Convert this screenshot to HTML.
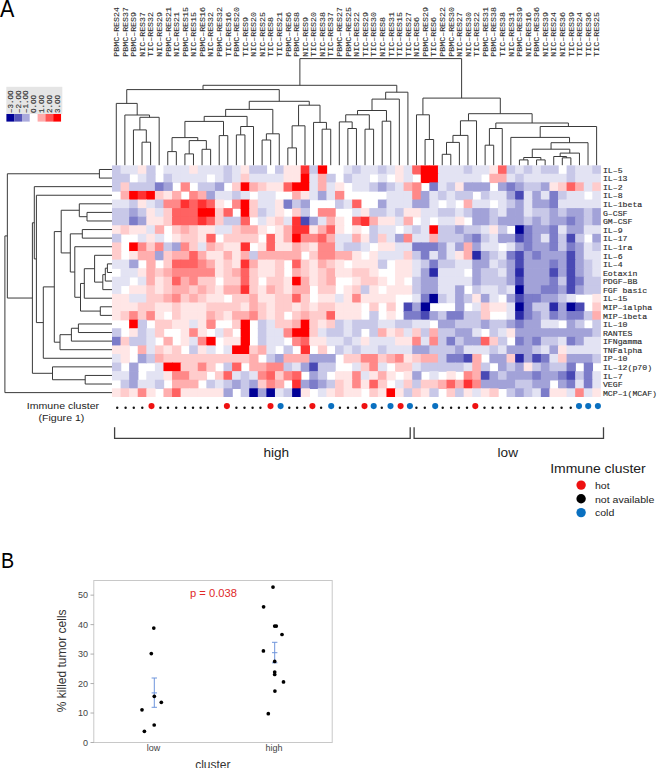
<!DOCTYPE html>
<html><head><meta charset="utf-8"><style>
html,body{margin:0;padding:0;background:#fff;}
body{width:657px;height:768px;overflow:hidden;}
svg{display:block;}
text{font-family:"Liberation Sans",sans-serif;}
.mono text{font-family:"Liberation Mono",monospace;font-size:8.2px;fill:#2a2a2a;stroke:#2a2a2a;stroke-width:0.1px;}
.leg text{font-family:"Liberation Mono",monospace;font-size:7.5px;fill:#333;stroke:#333;stroke-width:0.15px;}
.tk{font-size:9px;fill:#444;}
.ax{font-size:12px;fill:#333;}
.pv{font-size:11.2px;fill:#e02a2a;}
.cal{fill:#1c1c1c;}
</style></head><body>
<svg width="657" height="768" viewBox="0 0 657 768">
<rect width="657" height="768" fill="#fff"/>
<text transform="translate(0.1,16.5) scale(0.96,1.08)" font-size="22.4" fill="#000">A</text>
<g class="mono">
<text transform="translate(119.04,56.7) rotate(-90) scale(1.01,0.86)">PBMC–RES24</text>
<text transform="translate(127.62,56.7) rotate(-90) scale(1.01,0.86)">PBMC–RES37</text>
<text transform="translate(136.19,56.7) rotate(-90) scale(1.01,0.86)">PBMC–RES9</text>
<text transform="translate(144.77,56.7) rotate(-90) scale(1.01,0.86)">NIC–RES37</text>
<text transform="translate(153.35,56.7) rotate(-90) scale(1.01,0.86)">TIC–RES32</text>
<text transform="translate(161.92,56.7) rotate(-90) scale(1.01,0.86)">NIC–RES29</text>
<text transform="translate(170.50,56.7) rotate(-90) scale(1.01,0.86)">PBMC–RES21</text>
<text transform="translate(179.08,56.7) rotate(-90) scale(1.01,0.86)">NIC–RES21</text>
<text transform="translate(187.66,56.7) rotate(-90) scale(1.01,0.86)">PBMC–RES15</text>
<text transform="translate(196.23,56.7) rotate(-90) scale(1.01,0.86)">NIC–RES15</text>
<text transform="translate(204.81,56.7) rotate(-90) scale(1.01,0.86)">PBMC–RES16</text>
<text transform="translate(213.39,56.7) rotate(-90) scale(1.01,0.86)">NIC–RES32</text>
<text transform="translate(221.96,56.7) rotate(-90) scale(1.01,0.86)">PBMC–RES32</text>
<text transform="translate(230.54,56.7) rotate(-90) scale(1.01,0.86)">TIC–RES16</text>
<text transform="translate(239.12,56.7) rotate(-90) scale(1.01,0.86)">PBMC–RES20</text>
<text transform="translate(247.70,56.7) rotate(-90) scale(1.01,0.86)">TIC–RES9</text>
<text transform="translate(256.27,56.7) rotate(-90) scale(1.01,0.86)">NIC–RES20</text>
<text transform="translate(264.85,56.7) rotate(-90) scale(1.01,0.86)">NIC–RES25</text>
<text transform="translate(273.43,56.7) rotate(-90) scale(1.01,0.86)">TIC–RES8</text>
<text transform="translate(282.01,56.7) rotate(-90) scale(1.01,0.86)">TIC–RES21</text>
<text transform="translate(290.58,56.7) rotate(-90) scale(1.01,0.86)">PBMC–RES6</text>
<text transform="translate(299.16,56.7) rotate(-90) scale(1.01,0.86)">PBMC–RES8</text>
<text transform="translate(307.74,56.7) rotate(-90) scale(1.01,0.86)">NIC–RES9</text>
<text transform="translate(316.31,56.7) rotate(-90) scale(1.01,0.86)">TIC–RES20</text>
<text transform="translate(324.89,56.7) rotate(-90) scale(1.01,0.86)">NIC–RES38</text>
<text transform="translate(333.47,56.7) rotate(-90) scale(1.01,0.86)">TIC–RES37</text>
<text transform="translate(342.05,56.7) rotate(-90) scale(1.01,0.86)">PBMC–RES27</text>
<text transform="translate(350.62,56.7) rotate(-90) scale(1.01,0.86)">PBMC–RES25</text>
<text transform="translate(359.20,56.7) rotate(-90) scale(1.01,0.86)">NIC–RES22</text>
<text transform="translate(367.78,56.7) rotate(-90) scale(1.01,0.86)">TIC–RES29</text>
<text transform="translate(376.35,56.7) rotate(-90) scale(1.01,0.86)">TIC–RES30</text>
<text transform="translate(384.93,56.7) rotate(-90) scale(1.01,0.86)">NIC–RES8</text>
<text transform="translate(393.51,56.7) rotate(-90) scale(1.01,0.86)">TIC–RES31</text>
<text transform="translate(402.09,56.7) rotate(-90) scale(1.01,0.86)">TIC–RES15</text>
<text transform="translate(410.66,56.7) rotate(-90) scale(1.01,0.86)">TIC–RES27</text>
<text transform="translate(419.24,56.7) rotate(-90) scale(1.01,0.86)">NIC–RES6</text>
<text transform="translate(427.82,56.7) rotate(-90) scale(1.01,0.86)">PBMC–RES29</text>
<text transform="translate(436.39,56.7) rotate(-90) scale(1.01,0.86)">TIC–RES6</text>
<text transform="translate(444.97,56.7) rotate(-90) scale(1.01,0.86)">PBMC–RES22</text>
<text transform="translate(453.55,56.7) rotate(-90) scale(1.01,0.86)">PBMC–RES30</text>
<text transform="translate(462.13,56.7) rotate(-90) scale(1.01,0.86)">NIC–RES27</text>
<text transform="translate(470.70,56.7) rotate(-90) scale(1.01,0.86)">NIC–RES30</text>
<text transform="translate(479.28,56.7) rotate(-90) scale(1.01,0.86)">TIC–RES22</text>
<text transform="translate(487.86,56.7) rotate(-90) scale(1.01,0.86)">PBMC–RES31</text>
<text transform="translate(496.44,56.7) rotate(-90) scale(1.01,0.86)">PBMC–RES38</text>
<text transform="translate(505.01,56.7) rotate(-90) scale(1.01,0.86)">TIC–RES38</text>
<text transform="translate(513.59,56.7) rotate(-90) scale(1.01,0.86)">NIC–RES31</text>
<text transform="translate(522.17,56.7) rotate(-90) scale(1.01,0.86)">PBMC–RES39</text>
<text transform="translate(530.74,56.7) rotate(-90) scale(1.01,0.86)">NIC–RES16</text>
<text transform="translate(539.32,56.7) rotate(-90) scale(1.01,0.86)">PBMC–RES36</text>
<text transform="translate(547.90,56.7) rotate(-90) scale(1.01,0.86)">NIC–RES39</text>
<text transform="translate(556.48,56.7) rotate(-90) scale(1.01,0.86)">NIC–RES24</text>
<text transform="translate(565.05,56.7) rotate(-90) scale(1.01,0.86)">NIC–RES36</text>
<text transform="translate(573.63,56.7) rotate(-90) scale(1.01,0.86)">TIC–RES39</text>
<text transform="translate(582.21,56.7) rotate(-90) scale(1.01,0.86)">TIC–RES24</text>
<text transform="translate(590.78,56.7) rotate(-90) scale(1.01,0.86)">TIC–RES36</text>
<text transform="translate(599.36,56.7) rotate(-90) scale(1.01,0.86)">TIC–RES25</text>
<text transform="translate(602.9,172.69) scale(1,0.88)" style="stroke:#333;stroke-width:0.15px">IL–5</text>
<text transform="translate(602.9,181.27) scale(1,0.88)" style="stroke:#333;stroke-width:0.15px">IL–13</text>
<text transform="translate(602.9,189.85) scale(1,0.88)" style="stroke:#333;stroke-width:0.15px">IL–2</text>
<text transform="translate(602.9,198.44) scale(1,0.88)" style="stroke:#333;stroke-width:0.15px">IL–8</text>
<text transform="translate(602.9,207.02) scale(1,0.88)" style="stroke:#333;stroke-width:0.15px">IL–1beta</text>
<text transform="translate(602.9,215.60) scale(1,0.88)" style="stroke:#333;stroke-width:0.15px">G–CSF</text>
<text transform="translate(602.9,224.18) scale(1,0.88)" style="stroke:#333;stroke-width:0.15px">GM–CSF</text>
<text transform="translate(602.9,232.76) scale(1,0.88)" style="stroke:#333;stroke-width:0.15px">IL–9</text>
<text transform="translate(602.9,241.34) scale(1,0.88)" style="stroke:#333;stroke-width:0.15px">IL–17</text>
<text transform="translate(602.9,249.92) scale(1,0.88)" style="stroke:#333;stroke-width:0.15px">IL–1ra</text>
<text transform="translate(602.9,258.51) scale(1,0.88)" style="stroke:#333;stroke-width:0.15px">IL–6</text>
<text transform="translate(602.9,267.09) scale(1,0.88)" style="stroke:#333;stroke-width:0.15px">IL–4</text>
<text transform="translate(602.9,275.67) scale(1,0.88)" style="stroke:#333;stroke-width:0.15px">Eotaxin</text>
<text transform="translate(602.9,284.25) scale(1,0.88)" style="stroke:#333;stroke-width:0.15px">PDGF–BB</text>
<text transform="translate(602.9,292.83) scale(1,0.88)" style="stroke:#333;stroke-width:0.15px">FGF basic</text>
<text transform="translate(602.9,301.41) scale(1,0.88)" style="stroke:#333;stroke-width:0.15px">IL–15</text>
<text transform="translate(602.9,309.99) scale(1,0.88)" style="stroke:#333;stroke-width:0.15px">MIP–1alpha</text>
<text transform="translate(602.9,318.58) scale(1,0.88)" style="stroke:#333;stroke-width:0.15px">MIP–1beta</text>
<text transform="translate(602.9,327.16) scale(1,0.88)" style="stroke:#333;stroke-width:0.15px">IL–10</text>
<text transform="translate(602.9,335.74) scale(1,0.88)" style="stroke:#333;stroke-width:0.15px">RANTES</text>
<text transform="translate(602.9,344.32) scale(1,0.88)" style="stroke:#333;stroke-width:0.15px">IFNgamma</text>
<text transform="translate(602.9,352.90) scale(1,0.88)" style="stroke:#333;stroke-width:0.15px">TNFalpha</text>
<text transform="translate(602.9,361.48) scale(1,0.88)" style="stroke:#333;stroke-width:0.15px">IP–10</text>
<text transform="translate(602.9,370.06) scale(1,0.88)" style="stroke:#333;stroke-width:0.15px">IL–12(p70)</text>
<text transform="translate(602.9,378.65) scale(1,0.88)" style="stroke:#333;stroke-width:0.15px">IL–7</text>
<text transform="translate(602.9,387.23) scale(1,0.88)" style="stroke:#333;stroke-width:0.15px">VEGF</text>
<text transform="translate(602.9,395.81) scale(1,0.88)" style="stroke:#333;stroke-width:0.15px">MCP–1(MCAF)</text>
</g>
<g class="leg">
<rect x="6.3" y="86.8" width="56" height="27.3" fill="#e5e5e5"/>
<rect x="6.40" y="114.0" width="7.85" height="7.6" fill="#000096"/>
<text transform="translate(12.70,113.0) rotate(-90)">–3.OO</text>
<rect x="14.20" y="114.0" width="7.85" height="7.6" fill="#5555b9"/>
<text transform="translate(20.50,113.0) rotate(-90)">–2.OO</text>
<rect x="22.00" y="114.0" width="7.85" height="7.6" fill="#aaaadc"/>
<text transform="translate(28.30,113.0) rotate(-90)">–1.OO</text>
<rect x="29.80" y="114.0" width="7.85" height="7.6" fill="#ffffff"/>
<text transform="translate(36.10,113.0) rotate(-90)">O.OO</text>
<rect x="37.60" y="114.0" width="7.85" height="7.6" fill="#ffaaaa"/>
<text transform="translate(43.90,113.0) rotate(-90)">1.OO</text>
<rect x="45.40" y="114.0" width="7.85" height="7.6" fill="#ff5555"/>
<text transform="translate(51.70,113.0) rotate(-90)">2.OO</text>
<rect x="53.20" y="114.0" width="7.85" height="7.6" fill="#ff0000"/>
<text transform="translate(59.50,113.0) rotate(-90)">3.OO</text>
</g>
<defs><filter id="bl" x="-2%" y="-2%" width="104%" height="104%"><feGaussianBlur stdDeviation="0.45"/></filter>
<clipPath id="hc"><rect x="112.0" y="165.2" width="488.90" height="231.70"/></clipPath></defs>
<g clip-path="url(#hc)"><g filter="url(#bl)">
<rect x="110.0" y="163.2" width="492.90" height="235.70" fill="#fff"/>
<rect x="112.00" y="165.20" width="9.28" height="9.28" fill="#c8c8e8"/>
<rect x="120.58" y="165.20" width="9.28" height="9.28" fill="#e3e3f3"/>
<rect x="129.15" y="165.20" width="9.28" height="9.28" fill="#e3e3f3"/>
<rect x="137.73" y="165.20" width="9.28" height="9.28" fill="#ffe6e6"/>
<rect x="146.31" y="165.20" width="9.28" height="9.28" fill="#c8c8e8"/>
<rect x="163.46" y="165.20" width="9.28" height="9.28" fill="#e3e3f3"/>
<rect x="172.04" y="165.20" width="9.28" height="9.28" fill="#e3e3f3"/>
<rect x="180.62" y="165.20" width="9.28" height="9.28" fill="#e3e3f3"/>
<rect x="189.19" y="165.20" width="9.28" height="9.28" fill="#ffe6e6"/>
<rect x="197.77" y="165.20" width="9.28" height="9.28" fill="#e3e3f3"/>
<rect x="206.35" y="165.20" width="9.28" height="9.28" fill="#e3e3f3"/>
<rect x="214.93" y="165.20" width="9.28" height="9.28" fill="#e3e3f3"/>
<rect x="223.50" y="165.20" width="9.28" height="9.28" fill="#c8c8e8"/>
<rect x="232.08" y="165.20" width="9.28" height="9.28" fill="#e3e3f3"/>
<rect x="240.66" y="165.20" width="9.28" height="9.28" fill="#ffe6e6"/>
<rect x="249.24" y="165.20" width="9.28" height="9.28" fill="#c8c8e8"/>
<rect x="257.81" y="165.20" width="9.28" height="9.28" fill="#c8c8e8"/>
<rect x="274.97" y="165.20" width="9.28" height="9.28" fill="#c8c8e8"/>
<rect x="283.54" y="165.20" width="9.28" height="9.28" fill="#ffe6e6"/>
<rect x="292.12" y="165.20" width="9.28" height="9.28" fill="#ffe6e6"/>
<rect x="300.70" y="165.20" width="9.28" height="9.28" fill="#ff3333"/>
<rect x="309.28" y="165.20" width="9.28" height="9.28" fill="#c8c8e8"/>
<rect x="317.85" y="165.20" width="9.28" height="9.28" fill="#ff0000"/>
<rect x="343.58" y="165.20" width="9.28" height="9.28" fill="#e3e3f3"/>
<rect x="352.16" y="165.20" width="9.28" height="9.28" fill="#c8c8e8"/>
<rect x="360.74" y="165.20" width="9.28" height="9.28" fill="#e3e3f3"/>
<rect x="369.32" y="165.20" width="9.28" height="9.28" fill="#e3e3f3"/>
<rect x="377.89" y="165.20" width="9.28" height="9.28" fill="#c8c8e8"/>
<rect x="386.47" y="165.20" width="9.28" height="9.28" fill="#e3e3f3"/>
<rect x="395.05" y="165.20" width="9.28" height="9.28" fill="#ffe6e6"/>
<rect x="403.62" y="165.20" width="9.28" height="9.28" fill="#e3e3f3"/>
<rect x="412.20" y="165.20" width="9.28" height="9.28" fill="#ff6262"/>
<rect x="420.78" y="165.20" width="9.28" height="9.28" fill="#ff0000"/>
<rect x="429.36" y="165.20" width="9.28" height="9.28" fill="#ff0000"/>
<rect x="437.93" y="165.20" width="9.28" height="9.28" fill="#e3e3f3"/>
<rect x="446.51" y="165.20" width="9.28" height="9.28" fill="#e3e3f3"/>
<rect x="455.09" y="165.20" width="9.28" height="9.28" fill="#e3e3f3"/>
<rect x="463.66" y="165.20" width="9.28" height="9.28" fill="#c8c8e8"/>
<rect x="472.24" y="165.20" width="9.28" height="9.28" fill="#e3e3f3"/>
<rect x="480.82" y="165.20" width="9.28" height="9.28" fill="#e3e3f3"/>
<rect x="489.40" y="165.20" width="9.28" height="9.28" fill="#ffe6e6"/>
<rect x="497.97" y="165.20" width="9.28" height="9.28" fill="#ff6262"/>
<rect x="506.55" y="165.20" width="9.28" height="9.28" fill="#c8c8e8"/>
<rect x="515.13" y="165.20" width="9.28" height="9.28" fill="#e3e3f3"/>
<rect x="523.71" y="165.20" width="9.28" height="9.28" fill="#c8c8e8"/>
<rect x="532.28" y="165.20" width="9.28" height="9.28" fill="#e3e3f3"/>
<rect x="540.86" y="165.20" width="9.28" height="9.28" fill="#c8c8e8"/>
<rect x="549.44" y="165.20" width="9.28" height="9.28" fill="#c8c8e8"/>
<rect x="566.59" y="165.20" width="9.28" height="9.28" fill="#c8c8e8"/>
<rect x="575.17" y="165.20" width="9.28" height="9.28" fill="#e3e3f3"/>
<rect x="583.75" y="165.20" width="9.28" height="9.28" fill="#e3e3f3"/>
<rect x="592.32" y="165.20" width="9.28" height="9.28" fill="#c8c8e8"/>
<rect x="112.00" y="173.78" width="9.28" height="9.28" fill="#c8c8e8"/>
<rect x="120.58" y="173.78" width="9.28" height="9.28" fill="#c8c8e8"/>
<rect x="137.73" y="173.78" width="9.28" height="9.28" fill="#e3e3f3"/>
<rect x="146.31" y="173.78" width="9.28" height="9.28" fill="#c8c8e8"/>
<rect x="163.46" y="173.78" width="9.28" height="9.28" fill="#c8c8e8"/>
<rect x="172.04" y="173.78" width="9.28" height="9.28" fill="#e3e3f3"/>
<rect x="180.62" y="173.78" width="9.28" height="9.28" fill="#e3e3f3"/>
<rect x="189.19" y="173.78" width="9.28" height="9.28" fill="#e3e3f3"/>
<rect x="197.77" y="173.78" width="9.28" height="9.28" fill="#e3e3f3"/>
<rect x="214.93" y="173.78" width="9.28" height="9.28" fill="#e3e3f3"/>
<rect x="223.50" y="173.78" width="9.28" height="9.28" fill="#c8c8e8"/>
<rect x="232.08" y="173.78" width="9.28" height="9.28" fill="#e3e3f3"/>
<rect x="240.66" y="173.78" width="9.28" height="9.28" fill="#ffcccc"/>
<rect x="249.24" y="173.78" width="9.28" height="9.28" fill="#e3e3f3"/>
<rect x="257.81" y="173.78" width="9.28" height="9.28" fill="#e3e3f3"/>
<rect x="266.39" y="173.78" width="9.28" height="9.28" fill="#e3e3f3"/>
<rect x="274.97" y="173.78" width="9.28" height="9.28" fill="#e3e3f3"/>
<rect x="283.54" y="173.78" width="9.28" height="9.28" fill="#ffe6e6"/>
<rect x="292.12" y="173.78" width="9.28" height="9.28" fill="#ffe6e6"/>
<rect x="300.70" y="173.78" width="9.28" height="9.28" fill="#ff0000"/>
<rect x="309.28" y="173.78" width="9.28" height="9.28" fill="#e3e3f3"/>
<rect x="317.85" y="173.78" width="9.28" height="9.28" fill="#ffaeae"/>
<rect x="326.43" y="173.78" width="9.28" height="9.28" fill="#c8c8e8"/>
<rect x="343.58" y="173.78" width="9.28" height="9.28" fill="#c8c8e8"/>
<rect x="352.16" y="173.78" width="9.28" height="9.28" fill="#e3e3f3"/>
<rect x="360.74" y="173.78" width="9.28" height="9.28" fill="#e3e3f3"/>
<rect x="377.89" y="173.78" width="9.28" height="9.28" fill="#e3e3f3"/>
<rect x="395.05" y="173.78" width="9.28" height="9.28" fill="#ffe6e6"/>
<rect x="403.62" y="173.78" width="9.28" height="9.28" fill="#e3e3f3"/>
<rect x="420.78" y="173.78" width="9.28" height="9.28" fill="#ff0000"/>
<rect x="429.36" y="173.78" width="9.28" height="9.28" fill="#ff0000"/>
<rect x="437.93" y="173.78" width="9.28" height="9.28" fill="#e3e3f3"/>
<rect x="446.51" y="173.78" width="9.28" height="9.28" fill="#e3e3f3"/>
<rect x="455.09" y="173.78" width="9.28" height="9.28" fill="#e3e3f3"/>
<rect x="463.66" y="173.78" width="9.28" height="9.28" fill="#e3e3f3"/>
<rect x="472.24" y="173.78" width="9.28" height="9.28" fill="#e3e3f3"/>
<rect x="489.40" y="173.78" width="9.28" height="9.28" fill="#ffaeae"/>
<rect x="497.97" y="173.78" width="9.28" height="9.28" fill="#ffaeae"/>
<rect x="506.55" y="173.78" width="9.28" height="9.28" fill="#e3e3f3"/>
<rect x="515.13" y="173.78" width="9.28" height="9.28" fill="#c8c8e8"/>
<rect x="523.71" y="173.78" width="9.28" height="9.28" fill="#e3e3f3"/>
<rect x="532.28" y="173.78" width="9.28" height="9.28" fill="#e3e3f3"/>
<rect x="540.86" y="173.78" width="9.28" height="9.28" fill="#e3e3f3"/>
<rect x="549.44" y="173.78" width="9.28" height="9.28" fill="#e3e3f3"/>
<rect x="558.01" y="173.78" width="9.28" height="9.28" fill="#e3e3f3"/>
<rect x="566.59" y="173.78" width="9.28" height="9.28" fill="#c8c8e8"/>
<rect x="575.17" y="173.78" width="9.28" height="9.28" fill="#e3e3f3"/>
<rect x="583.75" y="173.78" width="9.28" height="9.28" fill="#e3e3f3"/>
<rect x="592.32" y="173.78" width="9.28" height="9.28" fill="#e3e3f3"/>
<rect x="112.00" y="182.36" width="9.28" height="9.28" fill="#c8c8e8"/>
<rect x="120.58" y="182.36" width="9.28" height="9.28" fill="#ffcccc"/>
<rect x="129.15" y="182.36" width="9.28" height="9.28" fill="#c8c8e8"/>
<rect x="137.73" y="182.36" width="9.28" height="9.28" fill="#c8c8e8"/>
<rect x="146.31" y="182.36" width="9.28" height="9.28" fill="#c8c8e8"/>
<rect x="154.89" y="182.36" width="9.28" height="9.28" fill="#7b7bc9"/>
<rect x="163.46" y="182.36" width="9.28" height="9.28" fill="#a2a2d8"/>
<rect x="180.62" y="182.36" width="9.28" height="9.28" fill="#ff8888"/>
<rect x="197.77" y="182.36" width="9.28" height="9.28" fill="#c8c8e8"/>
<rect x="206.35" y="182.36" width="9.28" height="9.28" fill="#c8c8e8"/>
<rect x="214.93" y="182.36" width="9.28" height="9.28" fill="#a2a2d8"/>
<rect x="232.08" y="182.36" width="9.28" height="9.28" fill="#ffcccc"/>
<rect x="240.66" y="182.36" width="9.28" height="9.28" fill="#ff0000"/>
<rect x="249.24" y="182.36" width="9.28" height="9.28" fill="#ffaeae"/>
<rect x="257.81" y="182.36" width="9.28" height="9.28" fill="#ffcccc"/>
<rect x="266.39" y="182.36" width="9.28" height="9.28" fill="#ffe6e6"/>
<rect x="274.97" y="182.36" width="9.28" height="9.28" fill="#ffe6e6"/>
<rect x="283.54" y="182.36" width="9.28" height="9.28" fill="#ff6262"/>
<rect x="292.12" y="182.36" width="9.28" height="9.28" fill="#ff0000"/>
<rect x="300.70" y="182.36" width="9.28" height="9.28" fill="#ff0000"/>
<rect x="309.28" y="182.36" width="9.28" height="9.28" fill="#e3e3f3"/>
<rect x="317.85" y="182.36" width="9.28" height="9.28" fill="#ffaeae"/>
<rect x="326.43" y="182.36" width="9.28" height="9.28" fill="#e3e3f3"/>
<rect x="335.01" y="182.36" width="9.28" height="9.28" fill="#ffe6e6"/>
<rect x="352.16" y="182.36" width="9.28" height="9.28" fill="#e3e3f3"/>
<rect x="360.74" y="182.36" width="9.28" height="9.28" fill="#e3e3f3"/>
<rect x="369.32" y="182.36" width="9.28" height="9.28" fill="#c8c8e8"/>
<rect x="377.89" y="182.36" width="9.28" height="9.28" fill="#a2a2d8"/>
<rect x="386.47" y="182.36" width="9.28" height="9.28" fill="#c8c8e8"/>
<rect x="395.05" y="182.36" width="9.28" height="9.28" fill="#e3e3f3"/>
<rect x="403.62" y="182.36" width="9.28" height="9.28" fill="#ffaeae"/>
<rect x="412.20" y="182.36" width="9.28" height="9.28" fill="#ff8888"/>
<rect x="429.36" y="182.36" width="9.28" height="9.28" fill="#7b7bc9"/>
<rect x="437.93" y="182.36" width="9.28" height="9.28" fill="#e3e3f3"/>
<rect x="446.51" y="182.36" width="9.28" height="9.28" fill="#c8c8e8"/>
<rect x="455.09" y="182.36" width="9.28" height="9.28" fill="#ffe6e6"/>
<rect x="463.66" y="182.36" width="9.28" height="9.28" fill="#a2a2d8"/>
<rect x="472.24" y="182.36" width="9.28" height="9.28" fill="#a2a2d8"/>
<rect x="480.82" y="182.36" width="9.28" height="9.28" fill="#a2a2d8"/>
<rect x="497.97" y="182.36" width="9.28" height="9.28" fill="#a2a2d8"/>
<rect x="506.55" y="182.36" width="9.28" height="9.28" fill="#7b7bc9"/>
<rect x="515.13" y="182.36" width="9.28" height="9.28" fill="#a2a2d8"/>
<rect x="523.71" y="182.36" width="9.28" height="9.28" fill="#c8c8e8"/>
<rect x="532.28" y="182.36" width="9.28" height="9.28" fill="#c8c8e8"/>
<rect x="540.86" y="182.36" width="9.28" height="9.28" fill="#a2a2d8"/>
<rect x="549.44" y="182.36" width="9.28" height="9.28" fill="#ffe6e6"/>
<rect x="558.01" y="182.36" width="9.28" height="9.28" fill="#ffcccc"/>
<rect x="566.59" y="182.36" width="9.28" height="9.28" fill="#ff6262"/>
<rect x="575.17" y="182.36" width="9.28" height="9.28" fill="#ffaeae"/>
<rect x="583.75" y="182.36" width="9.28" height="9.28" fill="#e3e3f3"/>
<rect x="592.32" y="182.36" width="9.28" height="9.28" fill="#ffcccc"/>
<rect x="120.58" y="190.94" width="9.28" height="9.28" fill="#ffaeae"/>
<rect x="129.15" y="190.94" width="9.28" height="9.28" fill="#ff0000"/>
<rect x="137.73" y="190.94" width="9.28" height="9.28" fill="#ff3333"/>
<rect x="146.31" y="190.94" width="9.28" height="9.28" fill="#ff0000"/>
<rect x="154.89" y="190.94" width="9.28" height="9.28" fill="#ffcccc"/>
<rect x="163.46" y="190.94" width="9.28" height="9.28" fill="#ffe6e6"/>
<rect x="172.04" y="190.94" width="9.28" height="9.28" fill="#ffaeae"/>
<rect x="189.19" y="190.94" width="9.28" height="9.28" fill="#ff8888"/>
<rect x="197.77" y="190.94" width="9.28" height="9.28" fill="#ffaeae"/>
<rect x="206.35" y="190.94" width="9.28" height="9.28" fill="#a2a2d8"/>
<rect x="214.93" y="190.94" width="9.28" height="9.28" fill="#e3e3f3"/>
<rect x="223.50" y="190.94" width="9.28" height="9.28" fill="#e3e3f3"/>
<rect x="232.08" y="190.94" width="9.28" height="9.28" fill="#c8c8e8"/>
<rect x="240.66" y="190.94" width="9.28" height="9.28" fill="#e3e3f3"/>
<rect x="257.81" y="190.94" width="9.28" height="9.28" fill="#e3e3f3"/>
<rect x="266.39" y="190.94" width="9.28" height="9.28" fill="#e3e3f3"/>
<rect x="292.12" y="190.94" width="9.28" height="9.28" fill="#ffaeae"/>
<rect x="300.70" y="190.94" width="9.28" height="9.28" fill="#ffe6e6"/>
<rect x="309.28" y="190.94" width="9.28" height="9.28" fill="#e3e3f3"/>
<rect x="317.85" y="190.94" width="9.28" height="9.28" fill="#a2a2d8"/>
<rect x="326.43" y="190.94" width="9.28" height="9.28" fill="#e3e3f3"/>
<rect x="335.01" y="190.94" width="9.28" height="9.28" fill="#ff8888"/>
<rect x="386.47" y="190.94" width="9.28" height="9.28" fill="#e3e3f3"/>
<rect x="395.05" y="190.94" width="9.28" height="9.28" fill="#e3e3f3"/>
<rect x="403.62" y="190.94" width="9.28" height="9.28" fill="#e3e3f3"/>
<rect x="412.20" y="190.94" width="9.28" height="9.28" fill="#ff8888"/>
<rect x="420.78" y="190.94" width="9.28" height="9.28" fill="#a2a2d8"/>
<rect x="429.36" y="190.94" width="9.28" height="9.28" fill="#e3e3f3"/>
<rect x="437.93" y="190.94" width="9.28" height="9.28" fill="#c8c8e8"/>
<rect x="446.51" y="190.94" width="9.28" height="9.28" fill="#e3e3f3"/>
<rect x="455.09" y="190.94" width="9.28" height="9.28" fill="#c8c8e8"/>
<rect x="463.66" y="190.94" width="9.28" height="9.28" fill="#c8c8e8"/>
<rect x="480.82" y="190.94" width="9.28" height="9.28" fill="#c8c8e8"/>
<rect x="489.40" y="190.94" width="9.28" height="9.28" fill="#e3e3f3"/>
<rect x="497.97" y="190.94" width="9.28" height="9.28" fill="#e3e3f3"/>
<rect x="506.55" y="190.94" width="9.28" height="9.28" fill="#a2a2d8"/>
<rect x="515.13" y="190.94" width="9.28" height="9.28" fill="#4848b4"/>
<rect x="523.71" y="190.94" width="9.28" height="9.28" fill="#e3e3f3"/>
<rect x="532.28" y="190.94" width="9.28" height="9.28" fill="#a2a2d8"/>
<rect x="540.86" y="190.94" width="9.28" height="9.28" fill="#e3e3f3"/>
<rect x="549.44" y="190.94" width="9.28" height="9.28" fill="#7b7bc9"/>
<rect x="558.01" y="190.94" width="9.28" height="9.28" fill="#c8c8e8"/>
<rect x="566.59" y="190.94" width="9.28" height="9.28" fill="#e3e3f3"/>
<rect x="575.17" y="190.94" width="9.28" height="9.28" fill="#e3e3f3"/>
<rect x="592.32" y="190.94" width="9.28" height="9.28" fill="#e3e3f3"/>
<rect x="112.00" y="199.53" width="9.28" height="9.28" fill="#e3e3f3"/>
<rect x="120.58" y="199.53" width="9.28" height="9.28" fill="#e3e3f3"/>
<rect x="129.15" y="199.53" width="9.28" height="9.28" fill="#c8c8e8"/>
<rect x="137.73" y="199.53" width="9.28" height="9.28" fill="#ffe6e6"/>
<rect x="146.31" y="199.53" width="9.28" height="9.28" fill="#e3e3f3"/>
<rect x="154.89" y="199.53" width="9.28" height="9.28" fill="#c8c8e8"/>
<rect x="163.46" y="199.53" width="9.28" height="9.28" fill="#ff8888"/>
<rect x="172.04" y="199.53" width="9.28" height="9.28" fill="#ff8888"/>
<rect x="180.62" y="199.53" width="9.28" height="9.28" fill="#ff3333"/>
<rect x="189.19" y="199.53" width="9.28" height="9.28" fill="#ff6262"/>
<rect x="197.77" y="199.53" width="9.28" height="9.28" fill="#ff3333"/>
<rect x="206.35" y="199.53" width="9.28" height="9.28" fill="#ff6262"/>
<rect x="214.93" y="199.53" width="9.28" height="9.28" fill="#ffe6e6"/>
<rect x="232.08" y="199.53" width="9.28" height="9.28" fill="#ff8888"/>
<rect x="240.66" y="199.53" width="9.28" height="9.28" fill="#ff0000"/>
<rect x="249.24" y="199.53" width="9.28" height="9.28" fill="#ffcccc"/>
<rect x="257.81" y="199.53" width="9.28" height="9.28" fill="#e3e3f3"/>
<rect x="266.39" y="199.53" width="9.28" height="9.28" fill="#e3e3f3"/>
<rect x="274.97" y="199.53" width="9.28" height="9.28" fill="#ffe6e6"/>
<rect x="283.54" y="199.53" width="9.28" height="9.28" fill="#7b7bc9"/>
<rect x="292.12" y="199.53" width="9.28" height="9.28" fill="#c8c8e8"/>
<rect x="300.70" y="199.53" width="9.28" height="9.28" fill="#a2a2d8"/>
<rect x="335.01" y="199.53" width="9.28" height="9.28" fill="#c8c8e8"/>
<rect x="343.58" y="199.53" width="9.28" height="9.28" fill="#e3e3f3"/>
<rect x="352.16" y="199.53" width="9.28" height="9.28" fill="#ff6262"/>
<rect x="377.89" y="199.53" width="9.28" height="9.28" fill="#a2a2d8"/>
<rect x="386.47" y="199.53" width="9.28" height="9.28" fill="#e3e3f3"/>
<rect x="395.05" y="199.53" width="9.28" height="9.28" fill="#e3e3f3"/>
<rect x="403.62" y="199.53" width="9.28" height="9.28" fill="#e3e3f3"/>
<rect x="412.20" y="199.53" width="9.28" height="9.28" fill="#a2a2d8"/>
<rect x="420.78" y="199.53" width="9.28" height="9.28" fill="#a2a2d8"/>
<rect x="429.36" y="199.53" width="9.28" height="9.28" fill="#e3e3f3"/>
<rect x="446.51" y="199.53" width="9.28" height="9.28" fill="#e3e3f3"/>
<rect x="463.66" y="199.53" width="9.28" height="9.28" fill="#ffaeae"/>
<rect x="472.24" y="199.53" width="9.28" height="9.28" fill="#e3e3f3"/>
<rect x="480.82" y="199.53" width="9.28" height="9.28" fill="#e3e3f3"/>
<rect x="497.97" y="199.53" width="9.28" height="9.28" fill="#e3e3f3"/>
<rect x="506.55" y="199.53" width="9.28" height="9.28" fill="#c8c8e8"/>
<rect x="515.13" y="199.53" width="9.28" height="9.28" fill="#a2a2d8"/>
<rect x="523.71" y="199.53" width="9.28" height="9.28" fill="#e3e3f3"/>
<rect x="532.28" y="199.53" width="9.28" height="9.28" fill="#a2a2d8"/>
<rect x="540.86" y="199.53" width="9.28" height="9.28" fill="#a2a2d8"/>
<rect x="549.44" y="199.53" width="9.28" height="9.28" fill="#7b7bc9"/>
<rect x="558.01" y="199.53" width="9.28" height="9.28" fill="#e3e3f3"/>
<rect x="566.59" y="199.53" width="9.28" height="9.28" fill="#e3e3f3"/>
<rect x="575.17" y="199.53" width="9.28" height="9.28" fill="#e3e3f3"/>
<rect x="583.75" y="199.53" width="9.28" height="9.28" fill="#e3e3f3"/>
<rect x="592.32" y="199.53" width="9.28" height="9.28" fill="#e3e3f3"/>
<rect x="112.00" y="208.11" width="9.28" height="9.28" fill="#c8c8e8"/>
<rect x="120.58" y="208.11" width="9.28" height="9.28" fill="#c8c8e8"/>
<rect x="129.15" y="208.11" width="9.28" height="9.28" fill="#a2a2d8"/>
<rect x="137.73" y="208.11" width="9.28" height="9.28" fill="#c8c8e8"/>
<rect x="146.31" y="208.11" width="9.28" height="9.28" fill="#ffe6e6"/>
<rect x="154.89" y="208.11" width="9.28" height="9.28" fill="#e3e3f3"/>
<rect x="163.46" y="208.11" width="9.28" height="9.28" fill="#ffcccc"/>
<rect x="172.04" y="208.11" width="9.28" height="9.28" fill="#ff6262"/>
<rect x="180.62" y="208.11" width="9.28" height="9.28" fill="#ff6262"/>
<rect x="189.19" y="208.11" width="9.28" height="9.28" fill="#ff6262"/>
<rect x="197.77" y="208.11" width="9.28" height="9.28" fill="#ff0000"/>
<rect x="206.35" y="208.11" width="9.28" height="9.28" fill="#ff0000"/>
<rect x="214.93" y="208.11" width="9.28" height="9.28" fill="#ffcccc"/>
<rect x="223.50" y="208.11" width="9.28" height="9.28" fill="#ff6262"/>
<rect x="240.66" y="208.11" width="9.28" height="9.28" fill="#ff0000"/>
<rect x="249.24" y="208.11" width="9.28" height="9.28" fill="#ffcccc"/>
<rect x="257.81" y="208.11" width="9.28" height="9.28" fill="#c8c8e8"/>
<rect x="266.39" y="208.11" width="9.28" height="9.28" fill="#e3e3f3"/>
<rect x="274.97" y="208.11" width="9.28" height="9.28" fill="#ffe6e6"/>
<rect x="292.12" y="208.11" width="9.28" height="9.28" fill="#ffcccc"/>
<rect x="300.70" y="208.11" width="9.28" height="9.28" fill="#c8c8e8"/>
<rect x="317.85" y="208.11" width="9.28" height="9.28" fill="#ff8888"/>
<rect x="326.43" y="208.11" width="9.28" height="9.28" fill="#ff8888"/>
<rect x="352.16" y="208.11" width="9.28" height="9.28" fill="#e3e3f3"/>
<rect x="360.74" y="208.11" width="9.28" height="9.28" fill="#ffe6e6"/>
<rect x="369.32" y="208.11" width="9.28" height="9.28" fill="#c8c8e8"/>
<rect x="377.89" y="208.11" width="9.28" height="9.28" fill="#c8c8e8"/>
<rect x="386.47" y="208.11" width="9.28" height="9.28" fill="#e3e3f3"/>
<rect x="395.05" y="208.11" width="9.28" height="9.28" fill="#c8c8e8"/>
<rect x="403.62" y="208.11" width="9.28" height="9.28" fill="#ffe6e6"/>
<rect x="412.20" y="208.11" width="9.28" height="9.28" fill="#ffe6e6"/>
<rect x="420.78" y="208.11" width="9.28" height="9.28" fill="#e3e3f3"/>
<rect x="429.36" y="208.11" width="9.28" height="9.28" fill="#e3e3f3"/>
<rect x="437.93" y="208.11" width="9.28" height="9.28" fill="#c8c8e8"/>
<rect x="446.51" y="208.11" width="9.28" height="9.28" fill="#c8c8e8"/>
<rect x="455.09" y="208.11" width="9.28" height="9.28" fill="#e3e3f3"/>
<rect x="463.66" y="208.11" width="9.28" height="9.28" fill="#c8c8e8"/>
<rect x="472.24" y="208.11" width="9.28" height="9.28" fill="#a2a2d8"/>
<rect x="480.82" y="208.11" width="9.28" height="9.28" fill="#a2a2d8"/>
<rect x="489.40" y="208.11" width="9.28" height="9.28" fill="#c8c8e8"/>
<rect x="497.97" y="208.11" width="9.28" height="9.28" fill="#e3e3f3"/>
<rect x="506.55" y="208.11" width="9.28" height="9.28" fill="#a2a2d8"/>
<rect x="515.13" y="208.11" width="9.28" height="9.28" fill="#a2a2d8"/>
<rect x="523.71" y="208.11" width="9.28" height="9.28" fill="#e3e3f3"/>
<rect x="532.28" y="208.11" width="9.28" height="9.28" fill="#c8c8e8"/>
<rect x="540.86" y="208.11" width="9.28" height="9.28" fill="#c8c8e8"/>
<rect x="549.44" y="208.11" width="9.28" height="9.28" fill="#a2a2d8"/>
<rect x="558.01" y="208.11" width="9.28" height="9.28" fill="#c8c8e8"/>
<rect x="566.59" y="208.11" width="9.28" height="9.28" fill="#a2a2d8"/>
<rect x="575.17" y="208.11" width="9.28" height="9.28" fill="#a2a2d8"/>
<rect x="583.75" y="208.11" width="9.28" height="9.28" fill="#c8c8e8"/>
<rect x="592.32" y="208.11" width="9.28" height="9.28" fill="#a2a2d8"/>
<rect x="112.00" y="216.69" width="9.28" height="9.28" fill="#c8c8e8"/>
<rect x="120.58" y="216.69" width="9.28" height="9.28" fill="#c8c8e8"/>
<rect x="129.15" y="216.69" width="9.28" height="9.28" fill="#7b7bc9"/>
<rect x="137.73" y="216.69" width="9.28" height="9.28" fill="#a2a2d8"/>
<rect x="146.31" y="216.69" width="9.28" height="9.28" fill="#ffe6e6"/>
<rect x="154.89" y="216.69" width="9.28" height="9.28" fill="#ffe6e6"/>
<rect x="163.46" y="216.69" width="9.28" height="9.28" fill="#ffcccc"/>
<rect x="172.04" y="216.69" width="9.28" height="9.28" fill="#ff6262"/>
<rect x="180.62" y="216.69" width="9.28" height="9.28" fill="#ff6262"/>
<rect x="189.19" y="216.69" width="9.28" height="9.28" fill="#ff6262"/>
<rect x="197.77" y="216.69" width="9.28" height="9.28" fill="#ff3333"/>
<rect x="206.35" y="216.69" width="9.28" height="9.28" fill="#ff6262"/>
<rect x="214.93" y="216.69" width="9.28" height="9.28" fill="#ffcccc"/>
<rect x="223.50" y="216.69" width="9.28" height="9.28" fill="#c8c8e8"/>
<rect x="232.08" y="216.69" width="9.28" height="9.28" fill="#c8c8e8"/>
<rect x="240.66" y="216.69" width="9.28" height="9.28" fill="#ff6262"/>
<rect x="257.81" y="216.69" width="9.28" height="9.28" fill="#e3e3f3"/>
<rect x="266.39" y="216.69" width="9.28" height="9.28" fill="#ffe6e6"/>
<rect x="274.97" y="216.69" width="9.28" height="9.28" fill="#ffcccc"/>
<rect x="283.54" y="216.69" width="9.28" height="9.28" fill="#e3e3f3"/>
<rect x="292.12" y="216.69" width="9.28" height="9.28" fill="#ff3333"/>
<rect x="300.70" y="216.69" width="9.28" height="9.28" fill="#4848b4"/>
<rect x="309.28" y="216.69" width="9.28" height="9.28" fill="#a2a2d8"/>
<rect x="317.85" y="216.69" width="9.28" height="9.28" fill="#e3e3f3"/>
<rect x="326.43" y="216.69" width="9.28" height="9.28" fill="#ffaeae"/>
<rect x="335.01" y="216.69" width="9.28" height="9.28" fill="#ffe6e6"/>
<rect x="352.16" y="216.69" width="9.28" height="9.28" fill="#ff6262"/>
<rect x="360.74" y="216.69" width="9.28" height="9.28" fill="#ff3333"/>
<rect x="369.32" y="216.69" width="9.28" height="9.28" fill="#ffaeae"/>
<rect x="377.89" y="216.69" width="9.28" height="9.28" fill="#ffe6e6"/>
<rect x="386.47" y="216.69" width="9.28" height="9.28" fill="#ffe6e6"/>
<rect x="395.05" y="216.69" width="9.28" height="9.28" fill="#e3e3f3"/>
<rect x="403.62" y="216.69" width="9.28" height="9.28" fill="#ffaeae"/>
<rect x="420.78" y="216.69" width="9.28" height="9.28" fill="#e3e3f3"/>
<rect x="437.93" y="216.69" width="9.28" height="9.28" fill="#e3e3f3"/>
<rect x="446.51" y="216.69" width="9.28" height="9.28" fill="#e3e3f3"/>
<rect x="455.09" y="216.69" width="9.28" height="9.28" fill="#ffe6e6"/>
<rect x="472.24" y="216.69" width="9.28" height="9.28" fill="#a2a2d8"/>
<rect x="480.82" y="216.69" width="9.28" height="9.28" fill="#a2a2d8"/>
<rect x="489.40" y="216.69" width="9.28" height="9.28" fill="#c8c8e8"/>
<rect x="497.97" y="216.69" width="9.28" height="9.28" fill="#a2a2d8"/>
<rect x="506.55" y="216.69" width="9.28" height="9.28" fill="#a2a2d8"/>
<rect x="515.13" y="216.69" width="9.28" height="9.28" fill="#a2a2d8"/>
<rect x="523.71" y="216.69" width="9.28" height="9.28" fill="#c8c8e8"/>
<rect x="532.28" y="216.69" width="9.28" height="9.28" fill="#a2a2d8"/>
<rect x="540.86" y="216.69" width="9.28" height="9.28" fill="#c8c8e8"/>
<rect x="549.44" y="216.69" width="9.28" height="9.28" fill="#a2a2d8"/>
<rect x="558.01" y="216.69" width="9.28" height="9.28" fill="#a2a2d8"/>
<rect x="566.59" y="216.69" width="9.28" height="9.28" fill="#7b7bc9"/>
<rect x="575.17" y="216.69" width="9.28" height="9.28" fill="#a2a2d8"/>
<rect x="583.75" y="216.69" width="9.28" height="9.28" fill="#c8c8e8"/>
<rect x="592.32" y="216.69" width="9.28" height="9.28" fill="#a2a2d8"/>
<rect x="112.00" y="225.27" width="9.28" height="9.28" fill="#ffe6e6"/>
<rect x="120.58" y="225.27" width="9.28" height="9.28" fill="#ffcccc"/>
<rect x="129.15" y="225.27" width="9.28" height="9.28" fill="#ffe6e6"/>
<rect x="137.73" y="225.27" width="9.28" height="9.28" fill="#ffe6e6"/>
<rect x="146.31" y="225.27" width="9.28" height="9.28" fill="#e3e3f3"/>
<rect x="154.89" y="225.27" width="9.28" height="9.28" fill="#ffaeae"/>
<rect x="172.04" y="225.27" width="9.28" height="9.28" fill="#ffcccc"/>
<rect x="180.62" y="225.27" width="9.28" height="9.28" fill="#ffaeae"/>
<rect x="189.19" y="225.27" width="9.28" height="9.28" fill="#ffcccc"/>
<rect x="197.77" y="225.27" width="9.28" height="9.28" fill="#ffe6e6"/>
<rect x="206.35" y="225.27" width="9.28" height="9.28" fill="#ffe6e6"/>
<rect x="214.93" y="225.27" width="9.28" height="9.28" fill="#e3e3f3"/>
<rect x="223.50" y="225.27" width="9.28" height="9.28" fill="#e3e3f3"/>
<rect x="232.08" y="225.27" width="9.28" height="9.28" fill="#ffcccc"/>
<rect x="240.66" y="225.27" width="9.28" height="9.28" fill="#ffaeae"/>
<rect x="249.24" y="225.27" width="9.28" height="9.28" fill="#ffaeae"/>
<rect x="257.81" y="225.27" width="9.28" height="9.28" fill="#ffe6e6"/>
<rect x="274.97" y="225.27" width="9.28" height="9.28" fill="#ffe6e6"/>
<rect x="283.54" y="225.27" width="9.28" height="9.28" fill="#ffaeae"/>
<rect x="292.12" y="225.27" width="9.28" height="9.28" fill="#ff3333"/>
<rect x="300.70" y="225.27" width="9.28" height="9.28" fill="#ff3333"/>
<rect x="309.28" y="225.27" width="9.28" height="9.28" fill="#ffe6e6"/>
<rect x="317.85" y="225.27" width="9.28" height="9.28" fill="#ffaeae"/>
<rect x="326.43" y="225.27" width="9.28" height="9.28" fill="#ff6262"/>
<rect x="335.01" y="225.27" width="9.28" height="9.28" fill="#ffe6e6"/>
<rect x="352.16" y="225.27" width="9.28" height="9.28" fill="#ffe6e6"/>
<rect x="369.32" y="225.27" width="9.28" height="9.28" fill="#c8c8e8"/>
<rect x="377.89" y="225.27" width="9.28" height="9.28" fill="#e3e3f3"/>
<rect x="386.47" y="225.27" width="9.28" height="9.28" fill="#e3e3f3"/>
<rect x="403.62" y="225.27" width="9.28" height="9.28" fill="#e3e3f3"/>
<rect x="412.20" y="225.27" width="9.28" height="9.28" fill="#c8c8e8"/>
<rect x="420.78" y="225.27" width="9.28" height="9.28" fill="#e3e3f3"/>
<rect x="429.36" y="225.27" width="9.28" height="9.28" fill="#ff0000"/>
<rect x="437.93" y="225.27" width="9.28" height="9.28" fill="#c8c8e8"/>
<rect x="446.51" y="225.27" width="9.28" height="9.28" fill="#c8c8e8"/>
<rect x="455.09" y="225.27" width="9.28" height="9.28" fill="#a2a2d8"/>
<rect x="463.66" y="225.27" width="9.28" height="9.28" fill="#c8c8e8"/>
<rect x="472.24" y="225.27" width="9.28" height="9.28" fill="#c8c8e8"/>
<rect x="480.82" y="225.27" width="9.28" height="9.28" fill="#e3e3f3"/>
<rect x="489.40" y="225.27" width="9.28" height="9.28" fill="#ffe6e6"/>
<rect x="497.97" y="225.27" width="9.28" height="9.28" fill="#c8c8e8"/>
<rect x="515.13" y="225.27" width="9.28" height="9.28" fill="#000096"/>
<rect x="523.71" y="225.27" width="9.28" height="9.28" fill="#7b7bc9"/>
<rect x="532.28" y="225.27" width="9.28" height="9.28" fill="#a2a2d8"/>
<rect x="540.86" y="225.27" width="9.28" height="9.28" fill="#a2a2d8"/>
<rect x="549.44" y="225.27" width="9.28" height="9.28" fill="#7b7bc9"/>
<rect x="558.01" y="225.27" width="9.28" height="9.28" fill="#e3e3f3"/>
<rect x="566.59" y="225.27" width="9.28" height="9.28" fill="#a2a2d8"/>
<rect x="575.17" y="225.27" width="9.28" height="9.28" fill="#a2a2d8"/>
<rect x="583.75" y="225.27" width="9.28" height="9.28" fill="#e3e3f3"/>
<rect x="592.32" y="225.27" width="9.28" height="9.28" fill="#e3e3f3"/>
<rect x="112.00" y="233.85" width="9.28" height="9.28" fill="#c8c8e8"/>
<rect x="137.73" y="233.85" width="9.28" height="9.28" fill="#e3e3f3"/>
<rect x="146.31" y="233.85" width="9.28" height="9.28" fill="#ffe6e6"/>
<rect x="154.89" y="233.85" width="9.28" height="9.28" fill="#e3e3f3"/>
<rect x="172.04" y="233.85" width="9.28" height="9.28" fill="#ffe6e6"/>
<rect x="180.62" y="233.85" width="9.28" height="9.28" fill="#ffcccc"/>
<rect x="189.19" y="233.85" width="9.28" height="9.28" fill="#ffcccc"/>
<rect x="197.77" y="233.85" width="9.28" height="9.28" fill="#ffe6e6"/>
<rect x="206.35" y="233.85" width="9.28" height="9.28" fill="#ff6262"/>
<rect x="223.50" y="233.85" width="9.28" height="9.28" fill="#ffcccc"/>
<rect x="232.08" y="233.85" width="9.28" height="9.28" fill="#ffcccc"/>
<rect x="240.66" y="233.85" width="9.28" height="9.28" fill="#ffcccc"/>
<rect x="249.24" y="233.85" width="9.28" height="9.28" fill="#ffcccc"/>
<rect x="266.39" y="233.85" width="9.28" height="9.28" fill="#ff6262"/>
<rect x="274.97" y="233.85" width="9.28" height="9.28" fill="#ffe6e6"/>
<rect x="283.54" y="233.85" width="9.28" height="9.28" fill="#ffaeae"/>
<rect x="292.12" y="233.85" width="9.28" height="9.28" fill="#ff0000"/>
<rect x="300.70" y="233.85" width="9.28" height="9.28" fill="#ff8888"/>
<rect x="309.28" y="233.85" width="9.28" height="9.28" fill="#ff8888"/>
<rect x="317.85" y="233.85" width="9.28" height="9.28" fill="#ff6262"/>
<rect x="326.43" y="233.85" width="9.28" height="9.28" fill="#ffaeae"/>
<rect x="335.01" y="233.85" width="9.28" height="9.28" fill="#e3e3f3"/>
<rect x="343.58" y="233.85" width="9.28" height="9.28" fill="#e3e3f3"/>
<rect x="352.16" y="233.85" width="9.28" height="9.28" fill="#ffaeae"/>
<rect x="360.74" y="233.85" width="9.28" height="9.28" fill="#ffe6e6"/>
<rect x="369.32" y="233.85" width="9.28" height="9.28" fill="#c8c8e8"/>
<rect x="377.89" y="233.85" width="9.28" height="9.28" fill="#ffcccc"/>
<rect x="386.47" y="233.85" width="9.28" height="9.28" fill="#e3e3f3"/>
<rect x="395.05" y="233.85" width="9.28" height="9.28" fill="#a2a2d8"/>
<rect x="403.62" y="233.85" width="9.28" height="9.28" fill="#ff8888"/>
<rect x="412.20" y="233.85" width="9.28" height="9.28" fill="#e3e3f3"/>
<rect x="420.78" y="233.85" width="9.28" height="9.28" fill="#e3e3f3"/>
<rect x="429.36" y="233.85" width="9.28" height="9.28" fill="#ffaeae"/>
<rect x="437.93" y="233.85" width="9.28" height="9.28" fill="#c8c8e8"/>
<rect x="446.51" y="233.85" width="9.28" height="9.28" fill="#c8c8e8"/>
<rect x="455.09" y="233.85" width="9.28" height="9.28" fill="#c8c8e8"/>
<rect x="463.66" y="233.85" width="9.28" height="9.28" fill="#a2a2d8"/>
<rect x="472.24" y="233.85" width="9.28" height="9.28" fill="#7b7bc9"/>
<rect x="480.82" y="233.85" width="9.28" height="9.28" fill="#c8c8e8"/>
<rect x="489.40" y="233.85" width="9.28" height="9.28" fill="#e3e3f3"/>
<rect x="497.97" y="233.85" width="9.28" height="9.28" fill="#a2a2d8"/>
<rect x="506.55" y="233.85" width="9.28" height="9.28" fill="#a2a2d8"/>
<rect x="515.13" y="233.85" width="9.28" height="9.28" fill="#4848b4"/>
<rect x="523.71" y="233.85" width="9.28" height="9.28" fill="#7b7bc9"/>
<rect x="532.28" y="233.85" width="9.28" height="9.28" fill="#a2a2d8"/>
<rect x="540.86" y="233.85" width="9.28" height="9.28" fill="#e3e3f3"/>
<rect x="549.44" y="233.85" width="9.28" height="9.28" fill="#7b7bc9"/>
<rect x="558.01" y="233.85" width="9.28" height="9.28" fill="#c8c8e8"/>
<rect x="566.59" y="233.85" width="9.28" height="9.28" fill="#4848b4"/>
<rect x="575.17" y="233.85" width="9.28" height="9.28" fill="#c8c8e8"/>
<rect x="592.32" y="233.85" width="9.28" height="9.28" fill="#a2a2d8"/>
<rect x="112.00" y="242.43" width="9.28" height="9.28" fill="#ffcccc"/>
<rect x="129.15" y="242.43" width="9.28" height="9.28" fill="#ff0000"/>
<rect x="137.73" y="242.43" width="9.28" height="9.28" fill="#ff8888"/>
<rect x="146.31" y="242.43" width="9.28" height="9.28" fill="#ffcccc"/>
<rect x="154.89" y="242.43" width="9.28" height="9.28" fill="#ff8888"/>
<rect x="163.46" y="242.43" width="9.28" height="9.28" fill="#c8c8e8"/>
<rect x="172.04" y="242.43" width="9.28" height="9.28" fill="#a2a2d8"/>
<rect x="180.62" y="242.43" width="9.28" height="9.28" fill="#ff8888"/>
<rect x="189.19" y="242.43" width="9.28" height="9.28" fill="#ffcccc"/>
<rect x="197.77" y="242.43" width="9.28" height="9.28" fill="#e3e3f3"/>
<rect x="206.35" y="242.43" width="9.28" height="9.28" fill="#ffaeae"/>
<rect x="214.93" y="242.43" width="9.28" height="9.28" fill="#ffcccc"/>
<rect x="223.50" y="242.43" width="9.28" height="9.28" fill="#ffe6e6"/>
<rect x="232.08" y="242.43" width="9.28" height="9.28" fill="#ffe6e6"/>
<rect x="240.66" y="242.43" width="9.28" height="9.28" fill="#ff3333"/>
<rect x="257.81" y="242.43" width="9.28" height="9.28" fill="#ffe6e6"/>
<rect x="266.39" y="242.43" width="9.28" height="9.28" fill="#ff6262"/>
<rect x="274.97" y="242.43" width="9.28" height="9.28" fill="#ffe6e6"/>
<rect x="283.54" y="242.43" width="9.28" height="9.28" fill="#ffe6e6"/>
<rect x="292.12" y="242.43" width="9.28" height="9.28" fill="#ffaeae"/>
<rect x="300.70" y="242.43" width="9.28" height="9.28" fill="#ffcccc"/>
<rect x="309.28" y="242.43" width="9.28" height="9.28" fill="#ffe6e6"/>
<rect x="317.85" y="242.43" width="9.28" height="9.28" fill="#ff8888"/>
<rect x="326.43" y="242.43" width="9.28" height="9.28" fill="#ff8888"/>
<rect x="335.01" y="242.43" width="9.28" height="9.28" fill="#e3e3f3"/>
<rect x="343.58" y="242.43" width="9.28" height="9.28" fill="#c8c8e8"/>
<rect x="352.16" y="242.43" width="9.28" height="9.28" fill="#c8c8e8"/>
<rect x="360.74" y="242.43" width="9.28" height="9.28" fill="#e3e3f3"/>
<rect x="377.89" y="242.43" width="9.28" height="9.28" fill="#ffe6e6"/>
<rect x="386.47" y="242.43" width="9.28" height="9.28" fill="#ffe6e6"/>
<rect x="395.05" y="242.43" width="9.28" height="9.28" fill="#e3e3f3"/>
<rect x="403.62" y="242.43" width="9.28" height="9.28" fill="#e3e3f3"/>
<rect x="412.20" y="242.43" width="9.28" height="9.28" fill="#7b7bc9"/>
<rect x="420.78" y="242.43" width="9.28" height="9.28" fill="#7b7bc9"/>
<rect x="429.36" y="242.43" width="9.28" height="9.28" fill="#7b7bc9"/>
<rect x="437.93" y="242.43" width="9.28" height="9.28" fill="#a2a2d8"/>
<rect x="446.51" y="242.43" width="9.28" height="9.28" fill="#e3e3f3"/>
<rect x="455.09" y="242.43" width="9.28" height="9.28" fill="#a2a2d8"/>
<rect x="463.66" y="242.43" width="9.28" height="9.28" fill="#ffaeae"/>
<rect x="472.24" y="242.43" width="9.28" height="9.28" fill="#a2a2d8"/>
<rect x="480.82" y="242.43" width="9.28" height="9.28" fill="#e3e3f3"/>
<rect x="489.40" y="242.43" width="9.28" height="9.28" fill="#e3e3f3"/>
<rect x="506.55" y="242.43" width="9.28" height="9.28" fill="#e3e3f3"/>
<rect x="515.13" y="242.43" width="9.28" height="9.28" fill="#a2a2d8"/>
<rect x="523.71" y="242.43" width="9.28" height="9.28" fill="#7b7bc9"/>
<rect x="532.28" y="242.43" width="9.28" height="9.28" fill="#a2a2d8"/>
<rect x="540.86" y="242.43" width="9.28" height="9.28" fill="#a2a2d8"/>
<rect x="549.44" y="242.43" width="9.28" height="9.28" fill="#7b7bc9"/>
<rect x="558.01" y="242.43" width="9.28" height="9.28" fill="#c8c8e8"/>
<rect x="566.59" y="242.43" width="9.28" height="9.28" fill="#7b7bc9"/>
<rect x="575.17" y="242.43" width="9.28" height="9.28" fill="#a2a2d8"/>
<rect x="583.75" y="242.43" width="9.28" height="9.28" fill="#e3e3f3"/>
<rect x="592.32" y="242.43" width="9.28" height="9.28" fill="#c8c8e8"/>
<rect x="112.00" y="251.01" width="9.28" height="9.28" fill="#ffcccc"/>
<rect x="129.15" y="251.01" width="9.28" height="9.28" fill="#ffe6e6"/>
<rect x="137.73" y="251.01" width="9.28" height="9.28" fill="#ffaeae"/>
<rect x="146.31" y="251.01" width="9.28" height="9.28" fill="#ffaeae"/>
<rect x="154.89" y="251.01" width="9.28" height="9.28" fill="#a2a2d8"/>
<rect x="163.46" y="251.01" width="9.28" height="9.28" fill="#ffcccc"/>
<rect x="172.04" y="251.01" width="9.28" height="9.28" fill="#ffaeae"/>
<rect x="180.62" y="251.01" width="9.28" height="9.28" fill="#ffaeae"/>
<rect x="189.19" y="251.01" width="9.28" height="9.28" fill="#ff6262"/>
<rect x="197.77" y="251.01" width="9.28" height="9.28" fill="#ffaeae"/>
<rect x="206.35" y="251.01" width="9.28" height="9.28" fill="#ffe6e6"/>
<rect x="214.93" y="251.01" width="9.28" height="9.28" fill="#ffe6e6"/>
<rect x="223.50" y="251.01" width="9.28" height="9.28" fill="#ffaeae"/>
<rect x="232.08" y="251.01" width="9.28" height="9.28" fill="#ffe6e6"/>
<rect x="240.66" y="251.01" width="9.28" height="9.28" fill="#ffaeae"/>
<rect x="249.24" y="251.01" width="9.28" height="9.28" fill="#c8c8e8"/>
<rect x="257.81" y="251.01" width="9.28" height="9.28" fill="#ffaeae"/>
<rect x="266.39" y="251.01" width="9.28" height="9.28" fill="#ffaeae"/>
<rect x="274.97" y="251.01" width="9.28" height="9.28" fill="#ffaeae"/>
<rect x="283.54" y="251.01" width="9.28" height="9.28" fill="#ffaeae"/>
<rect x="292.12" y="251.01" width="9.28" height="9.28" fill="#ffaeae"/>
<rect x="309.28" y="251.01" width="9.28" height="9.28" fill="#ffcccc"/>
<rect x="317.85" y="251.01" width="9.28" height="9.28" fill="#ff8888"/>
<rect x="326.43" y="251.01" width="9.28" height="9.28" fill="#ff8888"/>
<rect x="335.01" y="251.01" width="9.28" height="9.28" fill="#ffaeae"/>
<rect x="343.58" y="251.01" width="9.28" height="9.28" fill="#ffaeae"/>
<rect x="352.16" y="251.01" width="9.28" height="9.28" fill="#ffe6e6"/>
<rect x="369.32" y="251.01" width="9.28" height="9.28" fill="#ffe6e6"/>
<rect x="377.89" y="251.01" width="9.28" height="9.28" fill="#e3e3f3"/>
<rect x="386.47" y="251.01" width="9.28" height="9.28" fill="#e3e3f3"/>
<rect x="395.05" y="251.01" width="9.28" height="9.28" fill="#e3e3f3"/>
<rect x="403.62" y="251.01" width="9.28" height="9.28" fill="#ffcccc"/>
<rect x="412.20" y="251.01" width="9.28" height="9.28" fill="#c8c8e8"/>
<rect x="420.78" y="251.01" width="9.28" height="9.28" fill="#7b7bc9"/>
<rect x="429.36" y="251.01" width="9.28" height="9.28" fill="#e3e3f3"/>
<rect x="437.93" y="251.01" width="9.28" height="9.28" fill="#a2a2d8"/>
<rect x="446.51" y="251.01" width="9.28" height="9.28" fill="#e3e3f3"/>
<rect x="455.09" y="251.01" width="9.28" height="9.28" fill="#ffe6e6"/>
<rect x="463.66" y="251.01" width="9.28" height="9.28" fill="#ffaeae"/>
<rect x="472.24" y="251.01" width="9.28" height="9.28" fill="#2a2aa8"/>
<rect x="480.82" y="251.01" width="9.28" height="9.28" fill="#a2a2d8"/>
<rect x="489.40" y="251.01" width="9.28" height="9.28" fill="#c8c8e8"/>
<rect x="497.97" y="251.01" width="9.28" height="9.28" fill="#e3e3f3"/>
<rect x="506.55" y="251.01" width="9.28" height="9.28" fill="#7b7bc9"/>
<rect x="515.13" y="251.01" width="9.28" height="9.28" fill="#4848b4"/>
<rect x="523.71" y="251.01" width="9.28" height="9.28" fill="#a2a2d8"/>
<rect x="532.28" y="251.01" width="9.28" height="9.28" fill="#7b7bc9"/>
<rect x="540.86" y="251.01" width="9.28" height="9.28" fill="#a2a2d8"/>
<rect x="549.44" y="251.01" width="9.28" height="9.28" fill="#a2a2d8"/>
<rect x="558.01" y="251.01" width="9.28" height="9.28" fill="#a2a2d8"/>
<rect x="566.59" y="251.01" width="9.28" height="9.28" fill="#4848b4"/>
<rect x="575.17" y="251.01" width="9.28" height="9.28" fill="#a2a2d8"/>
<rect x="583.75" y="251.01" width="9.28" height="9.28" fill="#e3e3f3"/>
<rect x="592.32" y="251.01" width="9.28" height="9.28" fill="#e3e3f3"/>
<rect x="112.00" y="259.60" width="9.28" height="9.28" fill="#e3e3f3"/>
<rect x="120.58" y="259.60" width="9.28" height="9.28" fill="#e3e3f3"/>
<rect x="129.15" y="259.60" width="9.28" height="9.28" fill="#a2a2d8"/>
<rect x="146.31" y="259.60" width="9.28" height="9.28" fill="#ffaeae"/>
<rect x="163.46" y="259.60" width="9.28" height="9.28" fill="#ffcccc"/>
<rect x="172.04" y="259.60" width="9.28" height="9.28" fill="#ff6262"/>
<rect x="180.62" y="259.60" width="9.28" height="9.28" fill="#ff6262"/>
<rect x="189.19" y="259.60" width="9.28" height="9.28" fill="#ff6262"/>
<rect x="197.77" y="259.60" width="9.28" height="9.28" fill="#ff8888"/>
<rect x="206.35" y="259.60" width="9.28" height="9.28" fill="#ffaeae"/>
<rect x="214.93" y="259.60" width="9.28" height="9.28" fill="#ffe6e6"/>
<rect x="223.50" y="259.60" width="9.28" height="9.28" fill="#ffcccc"/>
<rect x="232.08" y="259.60" width="9.28" height="9.28" fill="#ffe6e6"/>
<rect x="240.66" y="259.60" width="9.28" height="9.28" fill="#ff3333"/>
<rect x="249.24" y="259.60" width="9.28" height="9.28" fill="#ffaeae"/>
<rect x="257.81" y="259.60" width="9.28" height="9.28" fill="#ffe6e6"/>
<rect x="266.39" y="259.60" width="9.28" height="9.28" fill="#ffe6e6"/>
<rect x="274.97" y="259.60" width="9.28" height="9.28" fill="#ffcccc"/>
<rect x="292.12" y="259.60" width="9.28" height="9.28" fill="#ff6262"/>
<rect x="300.70" y="259.60" width="9.28" height="9.28" fill="#ffcccc"/>
<rect x="309.28" y="259.60" width="9.28" height="9.28" fill="#ffe6e6"/>
<rect x="317.85" y="259.60" width="9.28" height="9.28" fill="#ffaeae"/>
<rect x="326.43" y="259.60" width="9.28" height="9.28" fill="#ffcccc"/>
<rect x="335.01" y="259.60" width="9.28" height="9.28" fill="#ffe6e6"/>
<rect x="352.16" y="259.60" width="9.28" height="9.28" fill="#ffe6e6"/>
<rect x="360.74" y="259.60" width="9.28" height="9.28" fill="#ffe6e6"/>
<rect x="369.32" y="259.60" width="9.28" height="9.28" fill="#ffe6e6"/>
<rect x="377.89" y="259.60" width="9.28" height="9.28" fill="#c8c8e8"/>
<rect x="395.05" y="259.60" width="9.28" height="9.28" fill="#ffe6e6"/>
<rect x="403.62" y="259.60" width="9.28" height="9.28" fill="#ffe6e6"/>
<rect x="412.20" y="259.60" width="9.28" height="9.28" fill="#e3e3f3"/>
<rect x="420.78" y="259.60" width="9.28" height="9.28" fill="#c8c8e8"/>
<rect x="429.36" y="259.60" width="9.28" height="9.28" fill="#7b7bc9"/>
<rect x="437.93" y="259.60" width="9.28" height="9.28" fill="#c8c8e8"/>
<rect x="446.51" y="259.60" width="9.28" height="9.28" fill="#c8c8e8"/>
<rect x="455.09" y="259.60" width="9.28" height="9.28" fill="#e3e3f3"/>
<rect x="463.66" y="259.60" width="9.28" height="9.28" fill="#e3e3f3"/>
<rect x="472.24" y="259.60" width="9.28" height="9.28" fill="#a2a2d8"/>
<rect x="480.82" y="259.60" width="9.28" height="9.28" fill="#a2a2d8"/>
<rect x="489.40" y="259.60" width="9.28" height="9.28" fill="#e3e3f3"/>
<rect x="497.97" y="259.60" width="9.28" height="9.28" fill="#c8c8e8"/>
<rect x="506.55" y="259.60" width="9.28" height="9.28" fill="#a2a2d8"/>
<rect x="515.13" y="259.60" width="9.28" height="9.28" fill="#4848b4"/>
<rect x="523.71" y="259.60" width="9.28" height="9.28" fill="#a2a2d8"/>
<rect x="532.28" y="259.60" width="9.28" height="9.28" fill="#a2a2d8"/>
<rect x="540.86" y="259.60" width="9.28" height="9.28" fill="#a2a2d8"/>
<rect x="549.44" y="259.60" width="9.28" height="9.28" fill="#7b7bc9"/>
<rect x="558.01" y="259.60" width="9.28" height="9.28" fill="#a2a2d8"/>
<rect x="566.59" y="259.60" width="9.28" height="9.28" fill="#4848b4"/>
<rect x="575.17" y="259.60" width="9.28" height="9.28" fill="#a2a2d8"/>
<rect x="583.75" y="259.60" width="9.28" height="9.28" fill="#c8c8e8"/>
<rect x="592.32" y="259.60" width="9.28" height="9.28" fill="#e3e3f3"/>
<rect x="120.58" y="268.18" width="9.28" height="9.28" fill="#e3e3f3"/>
<rect x="129.15" y="268.18" width="9.28" height="9.28" fill="#e3e3f3"/>
<rect x="137.73" y="268.18" width="9.28" height="9.28" fill="#ffe6e6"/>
<rect x="146.31" y="268.18" width="9.28" height="9.28" fill="#ffaeae"/>
<rect x="154.89" y="268.18" width="9.28" height="9.28" fill="#ffcccc"/>
<rect x="163.46" y="268.18" width="9.28" height="9.28" fill="#ffaeae"/>
<rect x="172.04" y="268.18" width="9.28" height="9.28" fill="#ff8888"/>
<rect x="180.62" y="268.18" width="9.28" height="9.28" fill="#ff8888"/>
<rect x="189.19" y="268.18" width="9.28" height="9.28" fill="#ff8888"/>
<rect x="197.77" y="268.18" width="9.28" height="9.28" fill="#ff8888"/>
<rect x="206.35" y="268.18" width="9.28" height="9.28" fill="#ff8888"/>
<rect x="214.93" y="268.18" width="9.28" height="9.28" fill="#ffe6e6"/>
<rect x="223.50" y="268.18" width="9.28" height="9.28" fill="#ffcccc"/>
<rect x="232.08" y="268.18" width="9.28" height="9.28" fill="#ffaeae"/>
<rect x="240.66" y="268.18" width="9.28" height="9.28" fill="#ff6262"/>
<rect x="249.24" y="268.18" width="9.28" height="9.28" fill="#ffcccc"/>
<rect x="257.81" y="268.18" width="9.28" height="9.28" fill="#ffe6e6"/>
<rect x="266.39" y="268.18" width="9.28" height="9.28" fill="#ffe6e6"/>
<rect x="274.97" y="268.18" width="9.28" height="9.28" fill="#ffcccc"/>
<rect x="292.12" y="268.18" width="9.28" height="9.28" fill="#ffaeae"/>
<rect x="300.70" y="268.18" width="9.28" height="9.28" fill="#ffcccc"/>
<rect x="309.28" y="268.18" width="9.28" height="9.28" fill="#ffe6e6"/>
<rect x="317.85" y="268.18" width="9.28" height="9.28" fill="#ffcccc"/>
<rect x="326.43" y="268.18" width="9.28" height="9.28" fill="#ffaeae"/>
<rect x="335.01" y="268.18" width="9.28" height="9.28" fill="#ffe6e6"/>
<rect x="343.58" y="268.18" width="9.28" height="9.28" fill="#ffe6e6"/>
<rect x="352.16" y="268.18" width="9.28" height="9.28" fill="#ffcccc"/>
<rect x="360.74" y="268.18" width="9.28" height="9.28" fill="#ffcccc"/>
<rect x="369.32" y="268.18" width="9.28" height="9.28" fill="#ffe6e6"/>
<rect x="395.05" y="268.18" width="9.28" height="9.28" fill="#ffe6e6"/>
<rect x="403.62" y="268.18" width="9.28" height="9.28" fill="#ffe6e6"/>
<rect x="412.20" y="268.18" width="9.28" height="9.28" fill="#e3e3f3"/>
<rect x="420.78" y="268.18" width="9.28" height="9.28" fill="#a2a2d8"/>
<rect x="429.36" y="268.18" width="9.28" height="9.28" fill="#2a2aa8"/>
<rect x="437.93" y="268.18" width="9.28" height="9.28" fill="#e3e3f3"/>
<rect x="446.51" y="268.18" width="9.28" height="9.28" fill="#e3e3f3"/>
<rect x="455.09" y="268.18" width="9.28" height="9.28" fill="#e3e3f3"/>
<rect x="472.24" y="268.18" width="9.28" height="9.28" fill="#a2a2d8"/>
<rect x="480.82" y="268.18" width="9.28" height="9.28" fill="#c8c8e8"/>
<rect x="489.40" y="268.18" width="9.28" height="9.28" fill="#c8c8e8"/>
<rect x="497.97" y="268.18" width="9.28" height="9.28" fill="#e3e3f3"/>
<rect x="506.55" y="268.18" width="9.28" height="9.28" fill="#a2a2d8"/>
<rect x="515.13" y="268.18" width="9.28" height="9.28" fill="#2a2aa8"/>
<rect x="523.71" y="268.18" width="9.28" height="9.28" fill="#a2a2d8"/>
<rect x="532.28" y="268.18" width="9.28" height="9.28" fill="#a2a2d8"/>
<rect x="540.86" y="268.18" width="9.28" height="9.28" fill="#a2a2d8"/>
<rect x="549.44" y="268.18" width="9.28" height="9.28" fill="#4848b4"/>
<rect x="558.01" y="268.18" width="9.28" height="9.28" fill="#a2a2d8"/>
<rect x="566.59" y="268.18" width="9.28" height="9.28" fill="#4848b4"/>
<rect x="575.17" y="268.18" width="9.28" height="9.28" fill="#a2a2d8"/>
<rect x="583.75" y="268.18" width="9.28" height="9.28" fill="#c8c8e8"/>
<rect x="592.32" y="268.18" width="9.28" height="9.28" fill="#e3e3f3"/>
<rect x="112.00" y="276.76" width="9.28" height="9.28" fill="#e3e3f3"/>
<rect x="120.58" y="276.76" width="9.28" height="9.28" fill="#e3e3f3"/>
<rect x="137.73" y="276.76" width="9.28" height="9.28" fill="#e3e3f3"/>
<rect x="146.31" y="276.76" width="9.28" height="9.28" fill="#ffaeae"/>
<rect x="154.89" y="276.76" width="9.28" height="9.28" fill="#ffe6e6"/>
<rect x="163.46" y="276.76" width="9.28" height="9.28" fill="#ffcccc"/>
<rect x="172.04" y="276.76" width="9.28" height="9.28" fill="#ff6262"/>
<rect x="180.62" y="276.76" width="9.28" height="9.28" fill="#ffaeae"/>
<rect x="189.19" y="276.76" width="9.28" height="9.28" fill="#ff8888"/>
<rect x="197.77" y="276.76" width="9.28" height="9.28" fill="#ffcccc"/>
<rect x="206.35" y="276.76" width="9.28" height="9.28" fill="#ffcccc"/>
<rect x="223.50" y="276.76" width="9.28" height="9.28" fill="#ffcccc"/>
<rect x="232.08" y="276.76" width="9.28" height="9.28" fill="#ffcccc"/>
<rect x="240.66" y="276.76" width="9.28" height="9.28" fill="#ff6262"/>
<rect x="249.24" y="276.76" width="9.28" height="9.28" fill="#ffcccc"/>
<rect x="266.39" y="276.76" width="9.28" height="9.28" fill="#ffcccc"/>
<rect x="274.97" y="276.76" width="9.28" height="9.28" fill="#ffcccc"/>
<rect x="283.54" y="276.76" width="9.28" height="9.28" fill="#ffe6e6"/>
<rect x="292.12" y="276.76" width="9.28" height="9.28" fill="#ff0000"/>
<rect x="300.70" y="276.76" width="9.28" height="9.28" fill="#ffaeae"/>
<rect x="309.28" y="276.76" width="9.28" height="9.28" fill="#ffe6e6"/>
<rect x="317.85" y="276.76" width="9.28" height="9.28" fill="#ffcccc"/>
<rect x="326.43" y="276.76" width="9.28" height="9.28" fill="#ffaeae"/>
<rect x="352.16" y="276.76" width="9.28" height="9.28" fill="#ffe6e6"/>
<rect x="360.74" y="276.76" width="9.28" height="9.28" fill="#ffcccc"/>
<rect x="369.32" y="276.76" width="9.28" height="9.28" fill="#ffcccc"/>
<rect x="377.89" y="276.76" width="9.28" height="9.28" fill="#ffe6e6"/>
<rect x="395.05" y="276.76" width="9.28" height="9.28" fill="#ffe6e6"/>
<rect x="412.20" y="276.76" width="9.28" height="9.28" fill="#c8c8e8"/>
<rect x="420.78" y="276.76" width="9.28" height="9.28" fill="#a2a2d8"/>
<rect x="429.36" y="276.76" width="9.28" height="9.28" fill="#a2a2d8"/>
<rect x="437.93" y="276.76" width="9.28" height="9.28" fill="#e3e3f3"/>
<rect x="446.51" y="276.76" width="9.28" height="9.28" fill="#e3e3f3"/>
<rect x="455.09" y="276.76" width="9.28" height="9.28" fill="#e3e3f3"/>
<rect x="463.66" y="276.76" width="9.28" height="9.28" fill="#e3e3f3"/>
<rect x="472.24" y="276.76" width="9.28" height="9.28" fill="#a2a2d8"/>
<rect x="480.82" y="276.76" width="9.28" height="9.28" fill="#c8c8e8"/>
<rect x="489.40" y="276.76" width="9.28" height="9.28" fill="#c8c8e8"/>
<rect x="497.97" y="276.76" width="9.28" height="9.28" fill="#c8c8e8"/>
<rect x="506.55" y="276.76" width="9.28" height="9.28" fill="#a2a2d8"/>
<rect x="515.13" y="276.76" width="9.28" height="9.28" fill="#4848b4"/>
<rect x="523.71" y="276.76" width="9.28" height="9.28" fill="#a2a2d8"/>
<rect x="532.28" y="276.76" width="9.28" height="9.28" fill="#a2a2d8"/>
<rect x="540.86" y="276.76" width="9.28" height="9.28" fill="#a2a2d8"/>
<rect x="549.44" y="276.76" width="9.28" height="9.28" fill="#7b7bc9"/>
<rect x="558.01" y="276.76" width="9.28" height="9.28" fill="#c8c8e8"/>
<rect x="566.59" y="276.76" width="9.28" height="9.28" fill="#4848b4"/>
<rect x="575.17" y="276.76" width="9.28" height="9.28" fill="#7b7bc9"/>
<rect x="583.75" y="276.76" width="9.28" height="9.28" fill="#c8c8e8"/>
<rect x="592.32" y="276.76" width="9.28" height="9.28" fill="#c8c8e8"/>
<rect x="112.00" y="285.34" width="9.28" height="9.28" fill="#e3e3f3"/>
<rect x="129.15" y="285.34" width="9.28" height="9.28" fill="#ffe6e6"/>
<rect x="137.73" y="285.34" width="9.28" height="9.28" fill="#ffe6e6"/>
<rect x="146.31" y="285.34" width="9.28" height="9.28" fill="#ffcccc"/>
<rect x="154.89" y="285.34" width="9.28" height="9.28" fill="#ffe6e6"/>
<rect x="163.46" y="285.34" width="9.28" height="9.28" fill="#ffcccc"/>
<rect x="172.04" y="285.34" width="9.28" height="9.28" fill="#ffaeae"/>
<rect x="180.62" y="285.34" width="9.28" height="9.28" fill="#ffaeae"/>
<rect x="189.19" y="285.34" width="9.28" height="9.28" fill="#ffcccc"/>
<rect x="197.77" y="285.34" width="9.28" height="9.28" fill="#ffaeae"/>
<rect x="206.35" y="285.34" width="9.28" height="9.28" fill="#ffcccc"/>
<rect x="214.93" y="285.34" width="9.28" height="9.28" fill="#ffe6e6"/>
<rect x="223.50" y="285.34" width="9.28" height="9.28" fill="#ffaeae"/>
<rect x="232.08" y="285.34" width="9.28" height="9.28" fill="#ffaeae"/>
<rect x="240.66" y="285.34" width="9.28" height="9.28" fill="#ff3333"/>
<rect x="249.24" y="285.34" width="9.28" height="9.28" fill="#ffcccc"/>
<rect x="257.81" y="285.34" width="9.28" height="9.28" fill="#ffe6e6"/>
<rect x="266.39" y="285.34" width="9.28" height="9.28" fill="#ffaeae"/>
<rect x="274.97" y="285.34" width="9.28" height="9.28" fill="#ffcccc"/>
<rect x="283.54" y="285.34" width="9.28" height="9.28" fill="#ffe6e6"/>
<rect x="292.12" y="285.34" width="9.28" height="9.28" fill="#ffaeae"/>
<rect x="300.70" y="285.34" width="9.28" height="9.28" fill="#ffaeae"/>
<rect x="317.85" y="285.34" width="9.28" height="9.28" fill="#ffcccc"/>
<rect x="326.43" y="285.34" width="9.28" height="9.28" fill="#ffcccc"/>
<rect x="343.58" y="285.34" width="9.28" height="9.28" fill="#ffe6e6"/>
<rect x="352.16" y="285.34" width="9.28" height="9.28" fill="#ffcccc"/>
<rect x="360.74" y="285.34" width="9.28" height="9.28" fill="#c8c8e8"/>
<rect x="369.32" y="285.34" width="9.28" height="9.28" fill="#ffe6e6"/>
<rect x="386.47" y="285.34" width="9.28" height="9.28" fill="#ffe6e6"/>
<rect x="395.05" y="285.34" width="9.28" height="9.28" fill="#ffe6e6"/>
<rect x="403.62" y="285.34" width="9.28" height="9.28" fill="#ffe6e6"/>
<rect x="412.20" y="285.34" width="9.28" height="9.28" fill="#c8c8e8"/>
<rect x="420.78" y="285.34" width="9.28" height="9.28" fill="#a2a2d8"/>
<rect x="429.36" y="285.34" width="9.28" height="9.28" fill="#a2a2d8"/>
<rect x="437.93" y="285.34" width="9.28" height="9.28" fill="#e3e3f3"/>
<rect x="446.51" y="285.34" width="9.28" height="9.28" fill="#e3e3f3"/>
<rect x="455.09" y="285.34" width="9.28" height="9.28" fill="#a2a2d8"/>
<rect x="472.24" y="285.34" width="9.28" height="9.28" fill="#c8c8e8"/>
<rect x="480.82" y="285.34" width="9.28" height="9.28" fill="#e3e3f3"/>
<rect x="489.40" y="285.34" width="9.28" height="9.28" fill="#e3e3f3"/>
<rect x="497.97" y="285.34" width="9.28" height="9.28" fill="#c8c8e8"/>
<rect x="506.55" y="285.34" width="9.28" height="9.28" fill="#e3e3f3"/>
<rect x="515.13" y="285.34" width="9.28" height="9.28" fill="#000096"/>
<rect x="523.71" y="285.34" width="9.28" height="9.28" fill="#a2a2d8"/>
<rect x="532.28" y="285.34" width="9.28" height="9.28" fill="#a2a2d8"/>
<rect x="540.86" y="285.34" width="9.28" height="9.28" fill="#7b7bc9"/>
<rect x="549.44" y="285.34" width="9.28" height="9.28" fill="#7b7bc9"/>
<rect x="558.01" y="285.34" width="9.28" height="9.28" fill="#a2a2d8"/>
<rect x="566.59" y="285.34" width="9.28" height="9.28" fill="#4848b4"/>
<rect x="575.17" y="285.34" width="9.28" height="9.28" fill="#a2a2d8"/>
<rect x="583.75" y="285.34" width="9.28" height="9.28" fill="#c8c8e8"/>
<rect x="592.32" y="285.34" width="9.28" height="9.28" fill="#c8c8e8"/>
<rect x="112.00" y="293.92" width="9.28" height="9.28" fill="#ffe6e6"/>
<rect x="120.58" y="293.92" width="9.28" height="9.28" fill="#ffe6e6"/>
<rect x="129.15" y="293.92" width="9.28" height="9.28" fill="#e3e3f3"/>
<rect x="137.73" y="293.92" width="9.28" height="9.28" fill="#e3e3f3"/>
<rect x="146.31" y="293.92" width="9.28" height="9.28" fill="#ffcccc"/>
<rect x="154.89" y="293.92" width="9.28" height="9.28" fill="#ffcccc"/>
<rect x="163.46" y="293.92" width="9.28" height="9.28" fill="#ffaeae"/>
<rect x="172.04" y="293.92" width="9.28" height="9.28" fill="#ff8888"/>
<rect x="180.62" y="293.92" width="9.28" height="9.28" fill="#ffcccc"/>
<rect x="189.19" y="293.92" width="9.28" height="9.28" fill="#ffaeae"/>
<rect x="197.77" y="293.92" width="9.28" height="9.28" fill="#ffcccc"/>
<rect x="206.35" y="293.92" width="9.28" height="9.28" fill="#ffe6e6"/>
<rect x="214.93" y="293.92" width="9.28" height="9.28" fill="#ffe6e6"/>
<rect x="232.08" y="293.92" width="9.28" height="9.28" fill="#ffcccc"/>
<rect x="240.66" y="293.92" width="9.28" height="9.28" fill="#ffcccc"/>
<rect x="249.24" y="293.92" width="9.28" height="9.28" fill="#ffaeae"/>
<rect x="257.81" y="293.92" width="9.28" height="9.28" fill="#ffe6e6"/>
<rect x="266.39" y="293.92" width="9.28" height="9.28" fill="#ffe6e6"/>
<rect x="274.97" y="293.92" width="9.28" height="9.28" fill="#ffcccc"/>
<rect x="283.54" y="293.92" width="9.28" height="9.28" fill="#ffcccc"/>
<rect x="292.12" y="293.92" width="9.28" height="9.28" fill="#ff6262"/>
<rect x="300.70" y="293.92" width="9.28" height="9.28" fill="#ffcccc"/>
<rect x="317.85" y="293.92" width="9.28" height="9.28" fill="#ffe6e6"/>
<rect x="326.43" y="293.92" width="9.28" height="9.28" fill="#ffe6e6"/>
<rect x="335.01" y="293.92" width="9.28" height="9.28" fill="#e3e3f3"/>
<rect x="343.58" y="293.92" width="9.28" height="9.28" fill="#ffe6e6"/>
<rect x="352.16" y="293.92" width="9.28" height="9.28" fill="#ff8888"/>
<rect x="360.74" y="293.92" width="9.28" height="9.28" fill="#ffe6e6"/>
<rect x="369.32" y="293.92" width="9.28" height="9.28" fill="#ffe6e6"/>
<rect x="377.89" y="293.92" width="9.28" height="9.28" fill="#ffe6e6"/>
<rect x="386.47" y="293.92" width="9.28" height="9.28" fill="#ffe6e6"/>
<rect x="412.20" y="293.92" width="9.28" height="9.28" fill="#e3e3f3"/>
<rect x="420.78" y="293.92" width="9.28" height="9.28" fill="#7b7bc9"/>
<rect x="429.36" y="293.92" width="9.28" height="9.28" fill="#000096"/>
<rect x="437.93" y="293.92" width="9.28" height="9.28" fill="#c8c8e8"/>
<rect x="446.51" y="293.92" width="9.28" height="9.28" fill="#e3e3f3"/>
<rect x="455.09" y="293.92" width="9.28" height="9.28" fill="#a2a2d8"/>
<rect x="463.66" y="293.92" width="9.28" height="9.28" fill="#c8c8e8"/>
<rect x="472.24" y="293.92" width="9.28" height="9.28" fill="#ffe6e6"/>
<rect x="480.82" y="293.92" width="9.28" height="9.28" fill="#a2a2d8"/>
<rect x="489.40" y="293.92" width="9.28" height="9.28" fill="#e3e3f3"/>
<rect x="506.55" y="293.92" width="9.28" height="9.28" fill="#a2a2d8"/>
<rect x="515.13" y="293.92" width="9.28" height="9.28" fill="#4848b4"/>
<rect x="523.71" y="293.92" width="9.28" height="9.28" fill="#7b7bc9"/>
<rect x="532.28" y="293.92" width="9.28" height="9.28" fill="#7b7bc9"/>
<rect x="540.86" y="293.92" width="9.28" height="9.28" fill="#a2a2d8"/>
<rect x="549.44" y="293.92" width="9.28" height="9.28" fill="#a2a2d8"/>
<rect x="558.01" y="293.92" width="9.28" height="9.28" fill="#c8c8e8"/>
<rect x="566.59" y="293.92" width="9.28" height="9.28" fill="#e3e3f3"/>
<rect x="592.32" y="293.92" width="9.28" height="9.28" fill="#ffe6e6"/>
<rect x="112.00" y="302.50" width="9.28" height="9.28" fill="#ffe6e6"/>
<rect x="120.58" y="302.50" width="9.28" height="9.28" fill="#ffe6e6"/>
<rect x="129.15" y="302.50" width="9.28" height="9.28" fill="#ffe6e6"/>
<rect x="137.73" y="302.50" width="9.28" height="9.28" fill="#ffcccc"/>
<rect x="146.31" y="302.50" width="9.28" height="9.28" fill="#ffcccc"/>
<rect x="154.89" y="302.50" width="9.28" height="9.28" fill="#ffe6e6"/>
<rect x="163.46" y="302.50" width="9.28" height="9.28" fill="#ffe6e6"/>
<rect x="172.04" y="302.50" width="9.28" height="9.28" fill="#ffcccc"/>
<rect x="180.62" y="302.50" width="9.28" height="9.28" fill="#ffe6e6"/>
<rect x="189.19" y="302.50" width="9.28" height="9.28" fill="#ffe6e6"/>
<rect x="197.77" y="302.50" width="9.28" height="9.28" fill="#ffe6e6"/>
<rect x="206.35" y="302.50" width="9.28" height="9.28" fill="#ffcccc"/>
<rect x="214.93" y="302.50" width="9.28" height="9.28" fill="#ffcccc"/>
<rect x="223.50" y="302.50" width="9.28" height="9.28" fill="#ffcccc"/>
<rect x="232.08" y="302.50" width="9.28" height="9.28" fill="#ffcccc"/>
<rect x="240.66" y="302.50" width="9.28" height="9.28" fill="#ffe6e6"/>
<rect x="249.24" y="302.50" width="9.28" height="9.28" fill="#ffaeae"/>
<rect x="257.81" y="302.50" width="9.28" height="9.28" fill="#ffcccc"/>
<rect x="266.39" y="302.50" width="9.28" height="9.28" fill="#ffe6e6"/>
<rect x="274.97" y="302.50" width="9.28" height="9.28" fill="#ffcccc"/>
<rect x="283.54" y="302.50" width="9.28" height="9.28" fill="#ffcccc"/>
<rect x="292.12" y="302.50" width="9.28" height="9.28" fill="#ffe6e6"/>
<rect x="300.70" y="302.50" width="9.28" height="9.28" fill="#ffcccc"/>
<rect x="309.28" y="302.50" width="9.28" height="9.28" fill="#ffe6e6"/>
<rect x="317.85" y="302.50" width="9.28" height="9.28" fill="#ffcccc"/>
<rect x="326.43" y="302.50" width="9.28" height="9.28" fill="#ffcccc"/>
<rect x="335.01" y="302.50" width="9.28" height="9.28" fill="#ffe6e6"/>
<rect x="343.58" y="302.50" width="9.28" height="9.28" fill="#ffe6e6"/>
<rect x="352.16" y="302.50" width="9.28" height="9.28" fill="#ffe6e6"/>
<rect x="369.32" y="302.50" width="9.28" height="9.28" fill="#ffcccc"/>
<rect x="386.47" y="302.50" width="9.28" height="9.28" fill="#ffcccc"/>
<rect x="403.62" y="302.50" width="9.28" height="9.28" fill="#4848b4"/>
<rect x="412.20" y="302.50" width="9.28" height="9.28" fill="#a2a2d8"/>
<rect x="420.78" y="302.50" width="9.28" height="9.28" fill="#000096"/>
<rect x="455.09" y="302.50" width="9.28" height="9.28" fill="#a2a2d8"/>
<rect x="472.24" y="302.50" width="9.28" height="9.28" fill="#e3e3f3"/>
<rect x="480.82" y="302.50" width="9.28" height="9.28" fill="#ffcccc"/>
<rect x="489.40" y="302.50" width="9.28" height="9.28" fill="#ffe6e6"/>
<rect x="497.97" y="302.50" width="9.28" height="9.28" fill="#ffe6e6"/>
<rect x="506.55" y="302.50" width="9.28" height="9.28" fill="#e3e3f3"/>
<rect x="515.13" y="302.50" width="9.28" height="9.28" fill="#000096"/>
<rect x="523.71" y="302.50" width="9.28" height="9.28" fill="#7b7bc9"/>
<rect x="532.28" y="302.50" width="9.28" height="9.28" fill="#c8c8e8"/>
<rect x="540.86" y="302.50" width="9.28" height="9.28" fill="#c8c8e8"/>
<rect x="549.44" y="302.50" width="9.28" height="9.28" fill="#2a2aa8"/>
<rect x="558.01" y="302.50" width="9.28" height="9.28" fill="#a2a2d8"/>
<rect x="566.59" y="302.50" width="9.28" height="9.28" fill="#000096"/>
<rect x="575.17" y="302.50" width="9.28" height="9.28" fill="#4848b4"/>
<rect x="592.32" y="302.50" width="9.28" height="9.28" fill="#ffcccc"/>
<rect x="112.00" y="311.09" width="9.28" height="9.28" fill="#ffe6e6"/>
<rect x="120.58" y="311.09" width="9.28" height="9.28" fill="#ffcccc"/>
<rect x="129.15" y="311.09" width="9.28" height="9.28" fill="#ff8888"/>
<rect x="137.73" y="311.09" width="9.28" height="9.28" fill="#ffcccc"/>
<rect x="146.31" y="311.09" width="9.28" height="9.28" fill="#ff8888"/>
<rect x="154.89" y="311.09" width="9.28" height="9.28" fill="#ffe6e6"/>
<rect x="172.04" y="311.09" width="9.28" height="9.28" fill="#ffcccc"/>
<rect x="180.62" y="311.09" width="9.28" height="9.28" fill="#ffe6e6"/>
<rect x="189.19" y="311.09" width="9.28" height="9.28" fill="#ffe6e6"/>
<rect x="197.77" y="311.09" width="9.28" height="9.28" fill="#ffe6e6"/>
<rect x="206.35" y="311.09" width="9.28" height="9.28" fill="#ffaeae"/>
<rect x="214.93" y="311.09" width="9.28" height="9.28" fill="#ffcccc"/>
<rect x="223.50" y="311.09" width="9.28" height="9.28" fill="#ffe6e6"/>
<rect x="232.08" y="311.09" width="9.28" height="9.28" fill="#ffaeae"/>
<rect x="240.66" y="311.09" width="9.28" height="9.28" fill="#ffaeae"/>
<rect x="249.24" y="311.09" width="9.28" height="9.28" fill="#ff8888"/>
<rect x="257.81" y="311.09" width="9.28" height="9.28" fill="#ffcccc"/>
<rect x="266.39" y="311.09" width="9.28" height="9.28" fill="#ffe6e6"/>
<rect x="274.97" y="311.09" width="9.28" height="9.28" fill="#ffcccc"/>
<rect x="292.12" y="311.09" width="9.28" height="9.28" fill="#ffcccc"/>
<rect x="300.70" y="311.09" width="9.28" height="9.28" fill="#ffaeae"/>
<rect x="309.28" y="311.09" width="9.28" height="9.28" fill="#ffcccc"/>
<rect x="317.85" y="311.09" width="9.28" height="9.28" fill="#ffcccc"/>
<rect x="326.43" y="311.09" width="9.28" height="9.28" fill="#ff6262"/>
<rect x="335.01" y="311.09" width="9.28" height="9.28" fill="#ffe6e6"/>
<rect x="343.58" y="311.09" width="9.28" height="9.28" fill="#ffe6e6"/>
<rect x="352.16" y="311.09" width="9.28" height="9.28" fill="#ffe6e6"/>
<rect x="369.32" y="311.09" width="9.28" height="9.28" fill="#c8c8e8"/>
<rect x="386.47" y="311.09" width="9.28" height="9.28" fill="#ffe6e6"/>
<rect x="403.62" y="311.09" width="9.28" height="9.28" fill="#7b7bc9"/>
<rect x="412.20" y="311.09" width="9.28" height="9.28" fill="#7b7bc9"/>
<rect x="420.78" y="311.09" width="9.28" height="9.28" fill="#4848b4"/>
<rect x="429.36" y="311.09" width="9.28" height="9.28" fill="#a2a2d8"/>
<rect x="437.93" y="311.09" width="9.28" height="9.28" fill="#c8c8e8"/>
<rect x="446.51" y="311.09" width="9.28" height="9.28" fill="#7b7bc9"/>
<rect x="455.09" y="311.09" width="9.28" height="9.28" fill="#7b7bc9"/>
<rect x="463.66" y="311.09" width="9.28" height="9.28" fill="#c8c8e8"/>
<rect x="472.24" y="311.09" width="9.28" height="9.28" fill="#c8c8e8"/>
<rect x="480.82" y="311.09" width="9.28" height="9.28" fill="#ffcccc"/>
<rect x="506.55" y="311.09" width="9.28" height="9.28" fill="#e3e3f3"/>
<rect x="515.13" y="311.09" width="9.28" height="9.28" fill="#2a2aa8"/>
<rect x="523.71" y="311.09" width="9.28" height="9.28" fill="#7b7bc9"/>
<rect x="532.28" y="311.09" width="9.28" height="9.28" fill="#a2a2d8"/>
<rect x="540.86" y="311.09" width="9.28" height="9.28" fill="#c8c8e8"/>
<rect x="549.44" y="311.09" width="9.28" height="9.28" fill="#7b7bc9"/>
<rect x="558.01" y="311.09" width="9.28" height="9.28" fill="#a2a2d8"/>
<rect x="566.59" y="311.09" width="9.28" height="9.28" fill="#7b7bc9"/>
<rect x="575.17" y="311.09" width="9.28" height="9.28" fill="#7b7bc9"/>
<rect x="583.75" y="311.09" width="9.28" height="9.28" fill="#c8c8e8"/>
<rect x="592.32" y="311.09" width="9.28" height="9.28" fill="#ffaeae"/>
<rect x="129.15" y="319.67" width="9.28" height="9.28" fill="#ff0000"/>
<rect x="137.73" y="319.67" width="9.28" height="9.28" fill="#c8c8e8"/>
<rect x="154.89" y="319.67" width="9.28" height="9.28" fill="#ffcccc"/>
<rect x="163.46" y="319.67" width="9.28" height="9.28" fill="#ffcccc"/>
<rect x="172.04" y="319.67" width="9.28" height="9.28" fill="#ffe6e6"/>
<rect x="180.62" y="319.67" width="9.28" height="9.28" fill="#ffe6e6"/>
<rect x="189.19" y="319.67" width="9.28" height="9.28" fill="#e3e3f3"/>
<rect x="197.77" y="319.67" width="9.28" height="9.28" fill="#ffe6e6"/>
<rect x="206.35" y="319.67" width="9.28" height="9.28" fill="#ff8888"/>
<rect x="232.08" y="319.67" width="9.28" height="9.28" fill="#ffcccc"/>
<rect x="240.66" y="319.67" width="9.28" height="9.28" fill="#ff0000"/>
<rect x="257.81" y="319.67" width="9.28" height="9.28" fill="#c8c8e8"/>
<rect x="266.39" y="319.67" width="9.28" height="9.28" fill="#e3e3f3"/>
<rect x="274.97" y="319.67" width="9.28" height="9.28" fill="#ffcccc"/>
<rect x="283.54" y="319.67" width="9.28" height="9.28" fill="#ffcccc"/>
<rect x="292.12" y="319.67" width="9.28" height="9.28" fill="#ffaeae"/>
<rect x="300.70" y="319.67" width="9.28" height="9.28" fill="#ff0000"/>
<rect x="309.28" y="319.67" width="9.28" height="9.28" fill="#ffcccc"/>
<rect x="317.85" y="319.67" width="9.28" height="9.28" fill="#ffe6e6"/>
<rect x="326.43" y="319.67" width="9.28" height="9.28" fill="#ffcccc"/>
<rect x="335.01" y="319.67" width="9.28" height="9.28" fill="#c8c8e8"/>
<rect x="343.58" y="319.67" width="9.28" height="9.28" fill="#e3e3f3"/>
<rect x="352.16" y="319.67" width="9.28" height="9.28" fill="#c8c8e8"/>
<rect x="360.74" y="319.67" width="9.28" height="9.28" fill="#c8c8e8"/>
<rect x="369.32" y="319.67" width="9.28" height="9.28" fill="#c8c8e8"/>
<rect x="377.89" y="319.67" width="9.28" height="9.28" fill="#e3e3f3"/>
<rect x="386.47" y="319.67" width="9.28" height="9.28" fill="#e3e3f3"/>
<rect x="395.05" y="319.67" width="9.28" height="9.28" fill="#c8c8e8"/>
<rect x="403.62" y="319.67" width="9.28" height="9.28" fill="#c8c8e8"/>
<rect x="412.20" y="319.67" width="9.28" height="9.28" fill="#e3e3f3"/>
<rect x="420.78" y="319.67" width="9.28" height="9.28" fill="#e3e3f3"/>
<rect x="437.93" y="319.67" width="9.28" height="9.28" fill="#a2a2d8"/>
<rect x="446.51" y="319.67" width="9.28" height="9.28" fill="#a2a2d8"/>
<rect x="455.09" y="319.67" width="9.28" height="9.28" fill="#c8c8e8"/>
<rect x="463.66" y="319.67" width="9.28" height="9.28" fill="#c8c8e8"/>
<rect x="472.24" y="319.67" width="9.28" height="9.28" fill="#c8c8e8"/>
<rect x="480.82" y="319.67" width="9.28" height="9.28" fill="#a2a2d8"/>
<rect x="489.40" y="319.67" width="9.28" height="9.28" fill="#c8c8e8"/>
<rect x="497.97" y="319.67" width="9.28" height="9.28" fill="#c8c8e8"/>
<rect x="506.55" y="319.67" width="9.28" height="9.28" fill="#a2a2d8"/>
<rect x="515.13" y="319.67" width="9.28" height="9.28" fill="#7b7bc9"/>
<rect x="523.71" y="319.67" width="9.28" height="9.28" fill="#a2a2d8"/>
<rect x="532.28" y="319.67" width="9.28" height="9.28" fill="#a2a2d8"/>
<rect x="540.86" y="319.67" width="9.28" height="9.28" fill="#e3e3f3"/>
<rect x="549.44" y="319.67" width="9.28" height="9.28" fill="#e3e3f3"/>
<rect x="566.59" y="319.67" width="9.28" height="9.28" fill="#a2a2d8"/>
<rect x="575.17" y="319.67" width="9.28" height="9.28" fill="#c8c8e8"/>
<rect x="592.32" y="319.67" width="9.28" height="9.28" fill="#c8c8e8"/>
<rect x="112.00" y="328.25" width="9.28" height="9.28" fill="#c8c8e8"/>
<rect x="129.15" y="328.25" width="9.28" height="9.28" fill="#ffe6e6"/>
<rect x="137.73" y="328.25" width="9.28" height="9.28" fill="#c8c8e8"/>
<rect x="146.31" y="328.25" width="9.28" height="9.28" fill="#e3e3f3"/>
<rect x="154.89" y="328.25" width="9.28" height="9.28" fill="#ffcccc"/>
<rect x="180.62" y="328.25" width="9.28" height="9.28" fill="#ffe6e6"/>
<rect x="189.19" y="328.25" width="9.28" height="9.28" fill="#ff8888"/>
<rect x="197.77" y="328.25" width="9.28" height="9.28" fill="#ffe6e6"/>
<rect x="214.93" y="328.25" width="9.28" height="9.28" fill="#e3e3f3"/>
<rect x="223.50" y="328.25" width="9.28" height="9.28" fill="#ffcccc"/>
<rect x="240.66" y="328.25" width="9.28" height="9.28" fill="#ff0000"/>
<rect x="257.81" y="328.25" width="9.28" height="9.28" fill="#c8c8e8"/>
<rect x="266.39" y="328.25" width="9.28" height="9.28" fill="#e3e3f3"/>
<rect x="274.97" y="328.25" width="9.28" height="9.28" fill="#e3e3f3"/>
<rect x="283.54" y="328.25" width="9.28" height="9.28" fill="#ff8888"/>
<rect x="292.12" y="328.25" width="9.28" height="9.28" fill="#ff0000"/>
<rect x="300.70" y="328.25" width="9.28" height="9.28" fill="#ff0000"/>
<rect x="309.28" y="328.25" width="9.28" height="9.28" fill="#ffcccc"/>
<rect x="317.85" y="328.25" width="9.28" height="9.28" fill="#e3e3f3"/>
<rect x="326.43" y="328.25" width="9.28" height="9.28" fill="#c8c8e8"/>
<rect x="335.01" y="328.25" width="9.28" height="9.28" fill="#c8c8e8"/>
<rect x="343.58" y="328.25" width="9.28" height="9.28" fill="#e3e3f3"/>
<rect x="352.16" y="328.25" width="9.28" height="9.28" fill="#c8c8e8"/>
<rect x="369.32" y="328.25" width="9.28" height="9.28" fill="#c8c8e8"/>
<rect x="377.89" y="328.25" width="9.28" height="9.28" fill="#ffaeae"/>
<rect x="386.47" y="328.25" width="9.28" height="9.28" fill="#ffe6e6"/>
<rect x="395.05" y="328.25" width="9.28" height="9.28" fill="#ffcccc"/>
<rect x="403.62" y="328.25" width="9.28" height="9.28" fill="#e3e3f3"/>
<rect x="412.20" y="328.25" width="9.28" height="9.28" fill="#ffcccc"/>
<rect x="420.78" y="328.25" width="9.28" height="9.28" fill="#c8c8e8"/>
<rect x="429.36" y="328.25" width="9.28" height="9.28" fill="#ffaeae"/>
<rect x="437.93" y="328.25" width="9.28" height="9.28" fill="#c8c8e8"/>
<rect x="446.51" y="328.25" width="9.28" height="9.28" fill="#c8c8e8"/>
<rect x="455.09" y="328.25" width="9.28" height="9.28" fill="#a2a2d8"/>
<rect x="463.66" y="328.25" width="9.28" height="9.28" fill="#a2a2d8"/>
<rect x="472.24" y="328.25" width="9.28" height="9.28" fill="#e3e3f3"/>
<rect x="489.40" y="328.25" width="9.28" height="9.28" fill="#c8c8e8"/>
<rect x="497.97" y="328.25" width="9.28" height="9.28" fill="#e3e3f3"/>
<rect x="506.55" y="328.25" width="9.28" height="9.28" fill="#ffe6e6"/>
<rect x="515.13" y="328.25" width="9.28" height="9.28" fill="#a2a2d8"/>
<rect x="523.71" y="328.25" width="9.28" height="9.28" fill="#a2a2d8"/>
<rect x="532.28" y="328.25" width="9.28" height="9.28" fill="#a2a2d8"/>
<rect x="540.86" y="328.25" width="9.28" height="9.28" fill="#a2a2d8"/>
<rect x="549.44" y="328.25" width="9.28" height="9.28" fill="#a2a2d8"/>
<rect x="558.01" y="328.25" width="9.28" height="9.28" fill="#a2a2d8"/>
<rect x="566.59" y="328.25" width="9.28" height="9.28" fill="#a2a2d8"/>
<rect x="575.17" y="328.25" width="9.28" height="9.28" fill="#a2a2d8"/>
<rect x="583.75" y="328.25" width="9.28" height="9.28" fill="#a2a2d8"/>
<rect x="592.32" y="328.25" width="9.28" height="9.28" fill="#c8c8e8"/>
<rect x="112.00" y="336.83" width="9.28" height="9.28" fill="#7b7bc9"/>
<rect x="120.58" y="336.83" width="9.28" height="9.28" fill="#ffcccc"/>
<rect x="129.15" y="336.83" width="9.28" height="9.28" fill="#c8c8e8"/>
<rect x="137.73" y="336.83" width="9.28" height="9.28" fill="#c8c8e8"/>
<rect x="146.31" y="336.83" width="9.28" height="9.28" fill="#e3e3f3"/>
<rect x="163.46" y="336.83" width="9.28" height="9.28" fill="#ffaeae"/>
<rect x="180.62" y="336.83" width="9.28" height="9.28" fill="#ffe6e6"/>
<rect x="189.19" y="336.83" width="9.28" height="9.28" fill="#e3e3f3"/>
<rect x="197.77" y="336.83" width="9.28" height="9.28" fill="#ff8888"/>
<rect x="206.35" y="336.83" width="9.28" height="9.28" fill="#ff0000"/>
<rect x="223.50" y="336.83" width="9.28" height="9.28" fill="#ffe6e6"/>
<rect x="232.08" y="336.83" width="9.28" height="9.28" fill="#ffe6e6"/>
<rect x="240.66" y="336.83" width="9.28" height="9.28" fill="#ff0000"/>
<rect x="257.81" y="336.83" width="9.28" height="9.28" fill="#c8c8e8"/>
<rect x="266.39" y="336.83" width="9.28" height="9.28" fill="#e3e3f3"/>
<rect x="274.97" y="336.83" width="9.28" height="9.28" fill="#e3e3f3"/>
<rect x="292.12" y="336.83" width="9.28" height="9.28" fill="#ff8888"/>
<rect x="300.70" y="336.83" width="9.28" height="9.28" fill="#ff6262"/>
<rect x="309.28" y="336.83" width="9.28" height="9.28" fill="#ffe6e6"/>
<rect x="317.85" y="336.83" width="9.28" height="9.28" fill="#ffe6e6"/>
<rect x="326.43" y="336.83" width="9.28" height="9.28" fill="#e3e3f3"/>
<rect x="335.01" y="336.83" width="9.28" height="9.28" fill="#e3e3f3"/>
<rect x="343.58" y="336.83" width="9.28" height="9.28" fill="#c8c8e8"/>
<rect x="352.16" y="336.83" width="9.28" height="9.28" fill="#e3e3f3"/>
<rect x="360.74" y="336.83" width="9.28" height="9.28" fill="#ffe6e6"/>
<rect x="369.32" y="336.83" width="9.28" height="9.28" fill="#e3e3f3"/>
<rect x="377.89" y="336.83" width="9.28" height="9.28" fill="#e3e3f3"/>
<rect x="386.47" y="336.83" width="9.28" height="9.28" fill="#e3e3f3"/>
<rect x="395.05" y="336.83" width="9.28" height="9.28" fill="#ffe6e6"/>
<rect x="403.62" y="336.83" width="9.28" height="9.28" fill="#ffe6e6"/>
<rect x="412.20" y="336.83" width="9.28" height="9.28" fill="#ff8888"/>
<rect x="420.78" y="336.83" width="9.28" height="9.28" fill="#e3e3f3"/>
<rect x="429.36" y="336.83" width="9.28" height="9.28" fill="#ff8888"/>
<rect x="437.93" y="336.83" width="9.28" height="9.28" fill="#c8c8e8"/>
<rect x="446.51" y="336.83" width="9.28" height="9.28" fill="#7b7bc9"/>
<rect x="455.09" y="336.83" width="9.28" height="9.28" fill="#c8c8e8"/>
<rect x="463.66" y="336.83" width="9.28" height="9.28" fill="#a2a2d8"/>
<rect x="472.24" y="336.83" width="9.28" height="9.28" fill="#a2a2d8"/>
<rect x="480.82" y="336.83" width="9.28" height="9.28" fill="#ff6262"/>
<rect x="489.40" y="336.83" width="9.28" height="9.28" fill="#ffcccc"/>
<rect x="497.97" y="336.83" width="9.28" height="9.28" fill="#c8c8e8"/>
<rect x="515.13" y="336.83" width="9.28" height="9.28" fill="#7b7bc9"/>
<rect x="523.71" y="336.83" width="9.28" height="9.28" fill="#a2a2d8"/>
<rect x="532.28" y="336.83" width="9.28" height="9.28" fill="#7b7bc9"/>
<rect x="540.86" y="336.83" width="9.28" height="9.28" fill="#c8c8e8"/>
<rect x="549.44" y="336.83" width="9.28" height="9.28" fill="#c8c8e8"/>
<rect x="558.01" y="336.83" width="9.28" height="9.28" fill="#e3e3f3"/>
<rect x="566.59" y="336.83" width="9.28" height="9.28" fill="#7b7bc9"/>
<rect x="575.17" y="336.83" width="9.28" height="9.28" fill="#a2a2d8"/>
<rect x="583.75" y="336.83" width="9.28" height="9.28" fill="#e3e3f3"/>
<rect x="592.32" y="336.83" width="9.28" height="9.28" fill="#e3e3f3"/>
<rect x="112.00" y="345.41" width="9.28" height="9.28" fill="#ffe6e6"/>
<rect x="120.58" y="345.41" width="9.28" height="9.28" fill="#ffe6e6"/>
<rect x="137.73" y="345.41" width="9.28" height="9.28" fill="#ffaeae"/>
<rect x="146.31" y="345.41" width="9.28" height="9.28" fill="#e3e3f3"/>
<rect x="154.89" y="345.41" width="9.28" height="9.28" fill="#ffcccc"/>
<rect x="163.46" y="345.41" width="9.28" height="9.28" fill="#ffe6e6"/>
<rect x="172.04" y="345.41" width="9.28" height="9.28" fill="#ffcccc"/>
<rect x="189.19" y="345.41" width="9.28" height="9.28" fill="#c8c8e8"/>
<rect x="197.77" y="345.41" width="9.28" height="9.28" fill="#ffe6e6"/>
<rect x="206.35" y="345.41" width="9.28" height="9.28" fill="#e3e3f3"/>
<rect x="223.50" y="345.41" width="9.28" height="9.28" fill="#e3e3f3"/>
<rect x="232.08" y="345.41" width="9.28" height="9.28" fill="#ff0000"/>
<rect x="240.66" y="345.41" width="9.28" height="9.28" fill="#ff0000"/>
<rect x="249.24" y="345.41" width="9.28" height="9.28" fill="#ffcccc"/>
<rect x="257.81" y="345.41" width="9.28" height="9.28" fill="#ffaeae"/>
<rect x="266.39" y="345.41" width="9.28" height="9.28" fill="#e3e3f3"/>
<rect x="283.54" y="345.41" width="9.28" height="9.28" fill="#c8c8e8"/>
<rect x="300.70" y="345.41" width="9.28" height="9.28" fill="#ff3333"/>
<rect x="317.85" y="345.41" width="9.28" height="9.28" fill="#ffcccc"/>
<rect x="335.01" y="345.41" width="9.28" height="9.28" fill="#c8c8e8"/>
<rect x="343.58" y="345.41" width="9.28" height="9.28" fill="#e3e3f3"/>
<rect x="352.16" y="345.41" width="9.28" height="9.28" fill="#c8c8e8"/>
<rect x="360.74" y="345.41" width="9.28" height="9.28" fill="#e3e3f3"/>
<rect x="369.32" y="345.41" width="9.28" height="9.28" fill="#e3e3f3"/>
<rect x="377.89" y="345.41" width="9.28" height="9.28" fill="#c8c8e8"/>
<rect x="386.47" y="345.41" width="9.28" height="9.28" fill="#e3e3f3"/>
<rect x="395.05" y="345.41" width="9.28" height="9.28" fill="#e3e3f3"/>
<rect x="403.62" y="345.41" width="9.28" height="9.28" fill="#e3e3f3"/>
<rect x="412.20" y="345.41" width="9.28" height="9.28" fill="#a2a2d8"/>
<rect x="420.78" y="345.41" width="9.28" height="9.28" fill="#a2a2d8"/>
<rect x="429.36" y="345.41" width="9.28" height="9.28" fill="#c8c8e8"/>
<rect x="437.93" y="345.41" width="9.28" height="9.28" fill="#c8c8e8"/>
<rect x="446.51" y="345.41" width="9.28" height="9.28" fill="#c8c8e8"/>
<rect x="455.09" y="345.41" width="9.28" height="9.28" fill="#a2a2d8"/>
<rect x="463.66" y="345.41" width="9.28" height="9.28" fill="#e3e3f3"/>
<rect x="472.24" y="345.41" width="9.28" height="9.28" fill="#e3e3f3"/>
<rect x="480.82" y="345.41" width="9.28" height="9.28" fill="#e3e3f3"/>
<rect x="489.40" y="345.41" width="9.28" height="9.28" fill="#c8c8e8"/>
<rect x="497.97" y="345.41" width="9.28" height="9.28" fill="#e3e3f3"/>
<rect x="506.55" y="345.41" width="9.28" height="9.28" fill="#a2a2d8"/>
<rect x="515.13" y="345.41" width="9.28" height="9.28" fill="#a2a2d8"/>
<rect x="523.71" y="345.41" width="9.28" height="9.28" fill="#a2a2d8"/>
<rect x="532.28" y="345.41" width="9.28" height="9.28" fill="#c8c8e8"/>
<rect x="540.86" y="345.41" width="9.28" height="9.28" fill="#e3e3f3"/>
<rect x="549.44" y="345.41" width="9.28" height="9.28" fill="#a2a2d8"/>
<rect x="558.01" y="345.41" width="9.28" height="9.28" fill="#ffe6e6"/>
<rect x="566.59" y="345.41" width="9.28" height="9.28" fill="#e3e3f3"/>
<rect x="575.17" y="345.41" width="9.28" height="9.28" fill="#e3e3f3"/>
<rect x="583.75" y="345.41" width="9.28" height="9.28" fill="#e3e3f3"/>
<rect x="592.32" y="345.41" width="9.28" height="9.28" fill="#e3e3f3"/>
<rect x="112.00" y="353.99" width="9.28" height="9.28" fill="#e3e3f3"/>
<rect x="120.58" y="353.99" width="9.28" height="9.28" fill="#ffe6e6"/>
<rect x="137.73" y="353.99" width="9.28" height="9.28" fill="#a2a2d8"/>
<rect x="146.31" y="353.99" width="9.28" height="9.28" fill="#c8c8e8"/>
<rect x="154.89" y="353.99" width="9.28" height="9.28" fill="#ffaeae"/>
<rect x="163.46" y="353.99" width="9.28" height="9.28" fill="#ffcccc"/>
<rect x="172.04" y="353.99" width="9.28" height="9.28" fill="#ffcccc"/>
<rect x="180.62" y="353.99" width="9.28" height="9.28" fill="#ffcccc"/>
<rect x="189.19" y="353.99" width="9.28" height="9.28" fill="#ffcccc"/>
<rect x="197.77" y="353.99" width="9.28" height="9.28" fill="#ffcccc"/>
<rect x="206.35" y="353.99" width="9.28" height="9.28" fill="#ffcccc"/>
<rect x="214.93" y="353.99" width="9.28" height="9.28" fill="#ffcccc"/>
<rect x="223.50" y="353.99" width="9.28" height="9.28" fill="#ffcccc"/>
<rect x="232.08" y="353.99" width="9.28" height="9.28" fill="#ffcccc"/>
<rect x="240.66" y="353.99" width="9.28" height="9.28" fill="#ffcccc"/>
<rect x="249.24" y="353.99" width="9.28" height="9.28" fill="#ffaeae"/>
<rect x="266.39" y="353.99" width="9.28" height="9.28" fill="#c8c8e8"/>
<rect x="274.97" y="353.99" width="9.28" height="9.28" fill="#a2a2d8"/>
<rect x="283.54" y="353.99" width="9.28" height="9.28" fill="#ffaeae"/>
<rect x="292.12" y="353.99" width="9.28" height="9.28" fill="#ffaeae"/>
<rect x="300.70" y="353.99" width="9.28" height="9.28" fill="#ffaeae"/>
<rect x="309.28" y="353.99" width="9.28" height="9.28" fill="#a2a2d8"/>
<rect x="317.85" y="353.99" width="9.28" height="9.28" fill="#a2a2d8"/>
<rect x="326.43" y="353.99" width="9.28" height="9.28" fill="#a2a2d8"/>
<rect x="343.58" y="353.99" width="9.28" height="9.28" fill="#ffcccc"/>
<rect x="352.16" y="353.99" width="9.28" height="9.28" fill="#ffcccc"/>
<rect x="360.74" y="353.99" width="9.28" height="9.28" fill="#ff8888"/>
<rect x="369.32" y="353.99" width="9.28" height="9.28" fill="#ff8888"/>
<rect x="377.89" y="353.99" width="9.28" height="9.28" fill="#ffcccc"/>
<rect x="386.47" y="353.99" width="9.28" height="9.28" fill="#ffaeae"/>
<rect x="395.05" y="353.99" width="9.28" height="9.28" fill="#ff8888"/>
<rect x="403.62" y="353.99" width="9.28" height="9.28" fill="#ffe6e6"/>
<rect x="412.20" y="353.99" width="9.28" height="9.28" fill="#ffcccc"/>
<rect x="420.78" y="353.99" width="9.28" height="9.28" fill="#ffaeae"/>
<rect x="429.36" y="353.99" width="9.28" height="9.28" fill="#ffaeae"/>
<rect x="437.93" y="353.99" width="9.28" height="9.28" fill="#c8c8e8"/>
<rect x="446.51" y="353.99" width="9.28" height="9.28" fill="#7b7bc9"/>
<rect x="455.09" y="353.99" width="9.28" height="9.28" fill="#7b7bc9"/>
<rect x="463.66" y="353.99" width="9.28" height="9.28" fill="#4848b4"/>
<rect x="472.24" y="353.99" width="9.28" height="9.28" fill="#ffaeae"/>
<rect x="489.40" y="353.99" width="9.28" height="9.28" fill="#a2a2d8"/>
<rect x="497.97" y="353.99" width="9.28" height="9.28" fill="#a2a2d8"/>
<rect x="506.55" y="353.99" width="9.28" height="9.28" fill="#ffcccc"/>
<rect x="515.13" y="353.99" width="9.28" height="9.28" fill="#2a2aa8"/>
<rect x="523.71" y="353.99" width="9.28" height="9.28" fill="#a2a2d8"/>
<rect x="532.28" y="353.99" width="9.28" height="9.28" fill="#4848b4"/>
<rect x="540.86" y="353.99" width="9.28" height="9.28" fill="#7b7bc9"/>
<rect x="549.44" y="353.99" width="9.28" height="9.28" fill="#e3e3f3"/>
<rect x="558.01" y="353.99" width="9.28" height="9.28" fill="#ffcccc"/>
<rect x="566.59" y="353.99" width="9.28" height="9.28" fill="#a2a2d8"/>
<rect x="575.17" y="353.99" width="9.28" height="9.28" fill="#a2a2d8"/>
<rect x="583.75" y="353.99" width="9.28" height="9.28" fill="#a2a2d8"/>
<rect x="592.32" y="353.99" width="9.28" height="9.28" fill="#c8c8e8"/>
<rect x="112.00" y="362.57" width="9.28" height="9.28" fill="#c8c8e8"/>
<rect x="129.15" y="362.57" width="9.28" height="9.28" fill="#a2a2d8"/>
<rect x="154.89" y="362.57" width="9.28" height="9.28" fill="#e3e3f3"/>
<rect x="163.46" y="362.57" width="9.28" height="9.28" fill="#ff0000"/>
<rect x="172.04" y="362.57" width="9.28" height="9.28" fill="#ff0000"/>
<rect x="180.62" y="362.57" width="9.28" height="9.28" fill="#ffcccc"/>
<rect x="189.19" y="362.57" width="9.28" height="9.28" fill="#ffcccc"/>
<rect x="197.77" y="362.57" width="9.28" height="9.28" fill="#ff8888"/>
<rect x="206.35" y="362.57" width="9.28" height="9.28" fill="#ffcccc"/>
<rect x="223.50" y="362.57" width="9.28" height="9.28" fill="#c8c8e8"/>
<rect x="232.08" y="362.57" width="9.28" height="9.28" fill="#ff6262"/>
<rect x="249.24" y="362.57" width="9.28" height="9.28" fill="#ffaeae"/>
<rect x="257.81" y="362.57" width="9.28" height="9.28" fill="#ffaeae"/>
<rect x="266.39" y="362.57" width="9.28" height="9.28" fill="#ff8888"/>
<rect x="274.97" y="362.57" width="9.28" height="9.28" fill="#ff8888"/>
<rect x="283.54" y="362.57" width="9.28" height="9.28" fill="#c8c8e8"/>
<rect x="292.12" y="362.57" width="9.28" height="9.28" fill="#e3e3f3"/>
<rect x="300.70" y="362.57" width="9.28" height="9.28" fill="#a2a2d8"/>
<rect x="309.28" y="362.57" width="9.28" height="9.28" fill="#4848b4"/>
<rect x="317.85" y="362.57" width="9.28" height="9.28" fill="#c8c8e8"/>
<rect x="326.43" y="362.57" width="9.28" height="9.28" fill="#c8c8e8"/>
<rect x="352.16" y="362.57" width="9.28" height="9.28" fill="#e3e3f3"/>
<rect x="360.74" y="362.57" width="9.28" height="9.28" fill="#ffcccc"/>
<rect x="369.32" y="362.57" width="9.28" height="9.28" fill="#ff8888"/>
<rect x="377.89" y="362.57" width="9.28" height="9.28" fill="#e3e3f3"/>
<rect x="395.05" y="362.57" width="9.28" height="9.28" fill="#ffcccc"/>
<rect x="403.62" y="362.57" width="9.28" height="9.28" fill="#ffcccc"/>
<rect x="412.20" y="362.57" width="9.28" height="9.28" fill="#e3e3f3"/>
<rect x="420.78" y="362.57" width="9.28" height="9.28" fill="#c8c8e8"/>
<rect x="429.36" y="362.57" width="9.28" height="9.28" fill="#c8c8e8"/>
<rect x="437.93" y="362.57" width="9.28" height="9.28" fill="#c8c8e8"/>
<rect x="446.51" y="362.57" width="9.28" height="9.28" fill="#c8c8e8"/>
<rect x="455.09" y="362.57" width="9.28" height="9.28" fill="#c8c8e8"/>
<rect x="463.66" y="362.57" width="9.28" height="9.28" fill="#e3e3f3"/>
<rect x="472.24" y="362.57" width="9.28" height="9.28" fill="#ffaeae"/>
<rect x="480.82" y="362.57" width="9.28" height="9.28" fill="#c8c8e8"/>
<rect x="497.97" y="362.57" width="9.28" height="9.28" fill="#a2a2d8"/>
<rect x="506.55" y="362.57" width="9.28" height="9.28" fill="#c8c8e8"/>
<rect x="515.13" y="362.57" width="9.28" height="9.28" fill="#a2a2d8"/>
<rect x="523.71" y="362.57" width="9.28" height="9.28" fill="#ffe6e6"/>
<rect x="532.28" y="362.57" width="9.28" height="9.28" fill="#c8c8e8"/>
<rect x="540.86" y="362.57" width="9.28" height="9.28" fill="#a2a2d8"/>
<rect x="549.44" y="362.57" width="9.28" height="9.28" fill="#c8c8e8"/>
<rect x="558.01" y="362.57" width="9.28" height="9.28" fill="#c8c8e8"/>
<rect x="566.59" y="362.57" width="9.28" height="9.28" fill="#7b7bc9"/>
<rect x="583.75" y="362.57" width="9.28" height="9.28" fill="#7b7bc9"/>
<rect x="112.00" y="371.16" width="9.28" height="9.28" fill="#e3e3f3"/>
<rect x="120.58" y="371.16" width="9.28" height="9.28" fill="#e3e3f3"/>
<rect x="129.15" y="371.16" width="9.28" height="9.28" fill="#a2a2d8"/>
<rect x="146.31" y="371.16" width="9.28" height="9.28" fill="#e3e3f3"/>
<rect x="154.89" y="371.16" width="9.28" height="9.28" fill="#e3e3f3"/>
<rect x="163.46" y="371.16" width="9.28" height="9.28" fill="#ffe6e6"/>
<rect x="172.04" y="371.16" width="9.28" height="9.28" fill="#ff8888"/>
<rect x="180.62" y="371.16" width="9.28" height="9.28" fill="#ff8888"/>
<rect x="189.19" y="371.16" width="9.28" height="9.28" fill="#ffcccc"/>
<rect x="197.77" y="371.16" width="9.28" height="9.28" fill="#ffcccc"/>
<rect x="214.93" y="371.16" width="9.28" height="9.28" fill="#ffcccc"/>
<rect x="223.50" y="371.16" width="9.28" height="9.28" fill="#ff6262"/>
<rect x="232.08" y="371.16" width="9.28" height="9.28" fill="#e3e3f3"/>
<rect x="240.66" y="371.16" width="9.28" height="9.28" fill="#c8c8e8"/>
<rect x="249.24" y="371.16" width="9.28" height="9.28" fill="#e3e3f3"/>
<rect x="257.81" y="371.16" width="9.28" height="9.28" fill="#ff8888"/>
<rect x="266.39" y="371.16" width="9.28" height="9.28" fill="#ff6262"/>
<rect x="274.97" y="371.16" width="9.28" height="9.28" fill="#ffcccc"/>
<rect x="283.54" y="371.16" width="9.28" height="9.28" fill="#ff8888"/>
<rect x="292.12" y="371.16" width="9.28" height="9.28" fill="#ff6262"/>
<rect x="309.28" y="371.16" width="9.28" height="9.28" fill="#a2a2d8"/>
<rect x="317.85" y="371.16" width="9.28" height="9.28" fill="#c8c8e8"/>
<rect x="335.01" y="371.16" width="9.28" height="9.28" fill="#ffe6e6"/>
<rect x="343.58" y="371.16" width="9.28" height="9.28" fill="#ffe6e6"/>
<rect x="352.16" y="371.16" width="9.28" height="9.28" fill="#ff8888"/>
<rect x="360.74" y="371.16" width="9.28" height="9.28" fill="#e3e3f3"/>
<rect x="369.32" y="371.16" width="9.28" height="9.28" fill="#ffe6e6"/>
<rect x="377.89" y="371.16" width="9.28" height="9.28" fill="#ffaeae"/>
<rect x="386.47" y="371.16" width="9.28" height="9.28" fill="#ffe6e6"/>
<rect x="403.62" y="371.16" width="9.28" height="9.28" fill="#ffe6e6"/>
<rect x="412.20" y="371.16" width="9.28" height="9.28" fill="#a2a2d8"/>
<rect x="429.36" y="371.16" width="9.28" height="9.28" fill="#e3e3f3"/>
<rect x="446.51" y="371.16" width="9.28" height="9.28" fill="#ffe6e6"/>
<rect x="463.66" y="371.16" width="9.28" height="9.28" fill="#ff8888"/>
<rect x="472.24" y="371.16" width="9.28" height="9.28" fill="#ffaeae"/>
<rect x="480.82" y="371.16" width="9.28" height="9.28" fill="#4848b4"/>
<rect x="489.40" y="371.16" width="9.28" height="9.28" fill="#a2a2d8"/>
<rect x="497.97" y="371.16" width="9.28" height="9.28" fill="#c8c8e8"/>
<rect x="506.55" y="371.16" width="9.28" height="9.28" fill="#a2a2d8"/>
<rect x="515.13" y="371.16" width="9.28" height="9.28" fill="#a2a2d8"/>
<rect x="523.71" y="371.16" width="9.28" height="9.28" fill="#a2a2d8"/>
<rect x="532.28" y="371.16" width="9.28" height="9.28" fill="#7b7bc9"/>
<rect x="540.86" y="371.16" width="9.28" height="9.28" fill="#a2a2d8"/>
<rect x="549.44" y="371.16" width="9.28" height="9.28" fill="#a2a2d8"/>
<rect x="558.01" y="371.16" width="9.28" height="9.28" fill="#7b7bc9"/>
<rect x="566.59" y="371.16" width="9.28" height="9.28" fill="#4848b4"/>
<rect x="575.17" y="371.16" width="9.28" height="9.28" fill="#c8c8e8"/>
<rect x="583.75" y="371.16" width="9.28" height="9.28" fill="#7b7bc9"/>
<rect x="592.32" y="371.16" width="9.28" height="9.28" fill="#e3e3f3"/>
<rect x="120.58" y="379.74" width="9.28" height="9.28" fill="#c8c8e8"/>
<rect x="129.15" y="379.74" width="9.28" height="9.28" fill="#a2a2d8"/>
<rect x="137.73" y="379.74" width="9.28" height="9.28" fill="#e3e3f3"/>
<rect x="146.31" y="379.74" width="9.28" height="9.28" fill="#e3e3f3"/>
<rect x="154.89" y="379.74" width="9.28" height="9.28" fill="#c8c8e8"/>
<rect x="172.04" y="379.74" width="9.28" height="9.28" fill="#ffaeae"/>
<rect x="180.62" y="379.74" width="9.28" height="9.28" fill="#ffaeae"/>
<rect x="189.19" y="379.74" width="9.28" height="9.28" fill="#ffaeae"/>
<rect x="206.35" y="379.74" width="9.28" height="9.28" fill="#c8c8e8"/>
<rect x="214.93" y="379.74" width="9.28" height="9.28" fill="#e3e3f3"/>
<rect x="223.50" y="379.74" width="9.28" height="9.28" fill="#c8c8e8"/>
<rect x="232.08" y="379.74" width="9.28" height="9.28" fill="#a2a2d8"/>
<rect x="240.66" y="379.74" width="9.28" height="9.28" fill="#c8c8e8"/>
<rect x="249.24" y="379.74" width="9.28" height="9.28" fill="#a2a2d8"/>
<rect x="257.81" y="379.74" width="9.28" height="9.28" fill="#ffcccc"/>
<rect x="266.39" y="379.74" width="9.28" height="9.28" fill="#ff8888"/>
<rect x="274.97" y="379.74" width="9.28" height="9.28" fill="#ffaeae"/>
<rect x="292.12" y="379.74" width="9.28" height="9.28" fill="#ff3333"/>
<rect x="300.70" y="379.74" width="9.28" height="9.28" fill="#a2a2d8"/>
<rect x="309.28" y="379.74" width="9.28" height="9.28" fill="#7b7bc9"/>
<rect x="317.85" y="379.74" width="9.28" height="9.28" fill="#a2a2d8"/>
<rect x="326.43" y="379.74" width="9.28" height="9.28" fill="#c8c8e8"/>
<rect x="335.01" y="379.74" width="9.28" height="9.28" fill="#ffcccc"/>
<rect x="343.58" y="379.74" width="9.28" height="9.28" fill="#ffe6e6"/>
<rect x="352.16" y="379.74" width="9.28" height="9.28" fill="#ff8888"/>
<rect x="360.74" y="379.74" width="9.28" height="9.28" fill="#ffe6e6"/>
<rect x="369.32" y="379.74" width="9.28" height="9.28" fill="#ff6262"/>
<rect x="377.89" y="379.74" width="9.28" height="9.28" fill="#ffcccc"/>
<rect x="395.05" y="379.74" width="9.28" height="9.28" fill="#e3e3f3"/>
<rect x="403.62" y="379.74" width="9.28" height="9.28" fill="#ffcccc"/>
<rect x="412.20" y="379.74" width="9.28" height="9.28" fill="#c8c8e8"/>
<rect x="420.78" y="379.74" width="9.28" height="9.28" fill="#ffcccc"/>
<rect x="429.36" y="379.74" width="9.28" height="9.28" fill="#ffcccc"/>
<rect x="437.93" y="379.74" width="9.28" height="9.28" fill="#ffaeae"/>
<rect x="446.51" y="379.74" width="9.28" height="9.28" fill="#ff6262"/>
<rect x="455.09" y="379.74" width="9.28" height="9.28" fill="#ffaeae"/>
<rect x="463.66" y="379.74" width="9.28" height="9.28" fill="#ff3333"/>
<rect x="472.24" y="379.74" width="9.28" height="9.28" fill="#ff8888"/>
<rect x="480.82" y="379.74" width="9.28" height="9.28" fill="#a2a2d8"/>
<rect x="489.40" y="379.74" width="9.28" height="9.28" fill="#a2a2d8"/>
<rect x="497.97" y="379.74" width="9.28" height="9.28" fill="#a2a2d8"/>
<rect x="506.55" y="379.74" width="9.28" height="9.28" fill="#a2a2d8"/>
<rect x="515.13" y="379.74" width="9.28" height="9.28" fill="#c8c8e8"/>
<rect x="523.71" y="379.74" width="9.28" height="9.28" fill="#c8c8e8"/>
<rect x="532.28" y="379.74" width="9.28" height="9.28" fill="#a2a2d8"/>
<rect x="540.86" y="379.74" width="9.28" height="9.28" fill="#a2a2d8"/>
<rect x="558.01" y="379.74" width="9.28" height="9.28" fill="#a2a2d8"/>
<rect x="566.59" y="379.74" width="9.28" height="9.28" fill="#7b7bc9"/>
<rect x="575.17" y="379.74" width="9.28" height="9.28" fill="#e3e3f3"/>
<rect x="583.75" y="379.74" width="9.28" height="9.28" fill="#7b7bc9"/>
<rect x="592.32" y="379.74" width="9.28" height="9.28" fill="#e3e3f3"/>
<rect x="112.00" y="388.32" width="9.28" height="9.28" fill="#ffe6e6"/>
<rect x="120.58" y="388.32" width="9.28" height="9.28" fill="#ffcccc"/>
<rect x="129.15" y="388.32" width="9.28" height="9.28" fill="#ffe6e6"/>
<rect x="137.73" y="388.32" width="9.28" height="9.28" fill="#ff8888"/>
<rect x="146.31" y="388.32" width="9.28" height="9.28" fill="#ffe6e6"/>
<rect x="163.46" y="388.32" width="9.28" height="9.28" fill="#ffaeae"/>
<rect x="172.04" y="388.32" width="9.28" height="9.28" fill="#ff6262"/>
<rect x="180.62" y="388.32" width="9.28" height="9.28" fill="#ffe6e6"/>
<rect x="189.19" y="388.32" width="9.28" height="9.28" fill="#ffe6e6"/>
<rect x="197.77" y="388.32" width="9.28" height="9.28" fill="#ffe6e6"/>
<rect x="206.35" y="388.32" width="9.28" height="9.28" fill="#ffe6e6"/>
<rect x="214.93" y="388.32" width="9.28" height="9.28" fill="#ffe6e6"/>
<rect x="223.50" y="388.32" width="9.28" height="9.28" fill="#a2a2d8"/>
<rect x="240.66" y="388.32" width="9.28" height="9.28" fill="#c8c8e8"/>
<rect x="249.24" y="388.32" width="9.28" height="9.28" fill="#000096"/>
<rect x="257.81" y="388.32" width="9.28" height="9.28" fill="#a2a2d8"/>
<rect x="266.39" y="388.32" width="9.28" height="9.28" fill="#000096"/>
<rect x="274.97" y="388.32" width="9.28" height="9.28" fill="#e3e3f3"/>
<rect x="283.54" y="388.32" width="9.28" height="9.28" fill="#c8c8e8"/>
<rect x="292.12" y="388.32" width="9.28" height="9.28" fill="#000096"/>
<rect x="300.70" y="388.32" width="9.28" height="9.28" fill="#ffe6e6"/>
<rect x="317.85" y="388.32" width="9.28" height="9.28" fill="#e3e3f3"/>
<rect x="326.43" y="388.32" width="9.28" height="9.28" fill="#ffe6e6"/>
<rect x="335.01" y="388.32" width="9.28" height="9.28" fill="#ffcccc"/>
<rect x="343.58" y="388.32" width="9.28" height="9.28" fill="#ffe6e6"/>
<rect x="352.16" y="388.32" width="9.28" height="9.28" fill="#ffe6e6"/>
<rect x="369.32" y="388.32" width="9.28" height="9.28" fill="#ffcccc"/>
<rect x="377.89" y="388.32" width="9.28" height="9.28" fill="#ffe6e6"/>
<rect x="386.47" y="388.32" width="9.28" height="9.28" fill="#ff0000"/>
<rect x="395.05" y="388.32" width="9.28" height="9.28" fill="#ffe6e6"/>
<rect x="403.62" y="388.32" width="9.28" height="9.28" fill="#c8c8e8"/>
<rect x="412.20" y="388.32" width="9.28" height="9.28" fill="#ffcccc"/>
<rect x="420.78" y="388.32" width="9.28" height="9.28" fill="#ffe6e6"/>
<rect x="429.36" y="388.32" width="9.28" height="9.28" fill="#c8c8e8"/>
<rect x="446.51" y="388.32" width="9.28" height="9.28" fill="#ffcccc"/>
<rect x="455.09" y="388.32" width="9.28" height="9.28" fill="#c8c8e8"/>
<rect x="463.66" y="388.32" width="9.28" height="9.28" fill="#ffe6e6"/>
<rect x="472.24" y="388.32" width="9.28" height="9.28" fill="#e3e3f3"/>
<rect x="480.82" y="388.32" width="9.28" height="9.28" fill="#ffe6e6"/>
<rect x="489.40" y="388.32" width="9.28" height="9.28" fill="#ffcccc"/>
<rect x="506.55" y="388.32" width="9.28" height="9.28" fill="#c8c8e8"/>
<rect x="515.13" y="388.32" width="9.28" height="9.28" fill="#a2a2d8"/>
<rect x="523.71" y="388.32" width="9.28" height="9.28" fill="#c8c8e8"/>
<rect x="532.28" y="388.32" width="9.28" height="9.28" fill="#e3e3f3"/>
<rect x="540.86" y="388.32" width="9.28" height="9.28" fill="#7b7bc9"/>
<rect x="549.44" y="388.32" width="9.28" height="9.28" fill="#ffe6e6"/>
<rect x="558.01" y="388.32" width="9.28" height="9.28" fill="#ffe6e6"/>
<rect x="566.59" y="388.32" width="9.28" height="9.28" fill="#e3e3f3"/>
<rect x="575.17" y="388.32" width="9.28" height="9.28" fill="#ff8888"/>
<rect x="583.75" y="388.32" width="9.28" height="9.28" fill="#e3e3f3"/>
<rect x="592.32" y="388.32" width="9.28" height="9.28" fill="#ffe6e6"/>
</g></g>
<path d="M142.02 165.20V142.20H150.60V165.20M133.44 165.20V129.90H146.31V142.20M139.88 129.90V117.30H159.17V165.20M124.87 165.20V115.00H149.53V117.30M116.29 165.20V103.40H137.20V115.00M167.75 165.20V151.60H176.33V165.20M184.91 165.20V153.90H193.48V165.20M202.06 165.20V149.30H210.64V165.20M189.19 153.90V140.60H206.35V149.30M172.04 151.60V137.60H197.77V140.60M219.21 165.20V135.60H227.79V165.20M184.91 137.60V121.40H223.50V135.60M236.37 165.20V134.90H244.95V165.20M240.66 134.90V126.50H253.52V165.20M204.20 121.40V116.40H247.09V126.50M262.10 165.20V140.00H270.68V165.20M266.39 140.00V133.80H279.26V165.20M225.65 116.40V109.40H272.82V133.80M287.83 165.20V147.90H296.41V165.20M292.12 147.90V125.80H304.99V165.20M322.14 165.20V129.20H330.72V165.20M313.56 165.20V122.40H326.43V129.20M298.55 125.80V105.20H320.00V122.40M249.24 109.40V101.30H309.28V105.20M126.74 103.40V89.60H279.26V101.30M347.87 165.20V128.50H356.45V165.20M339.30 165.20V121.90H352.16V128.50M365.03 165.20V129.20H373.60V165.20M345.73 121.90V114.80H369.32V129.20M382.18 165.20V121.20H390.76V165.20M357.52 114.80V110.50H386.47V121.20M372.00 110.50V99.10H399.34V165.20M385.67 99.10V92.20H407.91V165.20M203.00 89.60V85.30H396.79V92.20M425.07 165.20V139.50H433.64V165.20M416.49 165.20V114.80H429.36V139.50M442.22 165.20V154.30H450.80V165.20M446.51 154.30V142.40H459.38V165.20M452.94 142.40V135.40H467.95V165.20M460.45 135.40V120.80H476.53V165.20M485.11 165.20V145.20H493.69V165.20M489.40 145.20V128.50H502.26V165.20M519.42 165.20V159.90H527.99V165.20M536.57 165.20V159.90H545.15V165.20M523.71 159.90V157.50H540.86V159.90M562.30 165.20V157.80H570.88V165.20M553.73 165.20V156.50H566.59V157.80M560.16 156.50V153.10H579.46V165.20M532.28 157.50V149.20H569.81V153.10M551.05 149.20V142.70H588.03V165.20M510.84 165.20V137.40H569.54V142.70M540.19 137.40V126.50H596.61V165.20M495.83 128.50V123.00H568.40V126.50M468.49 120.80V113.70H532.11V123.00M422.92 114.80V98.10H500.30V113.70M299.89 85.30V58.60H461.61V98.10" fill="none" stroke="#3a3a3a" stroke-width="1"/>
<path d="M112.00 263.89H107.40V272.47H112.00M107.40 268.18H105.30V281.05H112.00M105.30 274.61H102.80V289.63H112.00M112.00 255.31H94.60V282.12H102.80M94.60 268.71H84.30V298.21H112.00M112.00 306.79H100.30V315.38H112.00M84.30 283.46H80.50V311.09H100.30M112.00 246.72H74.80V297.27H80.50M112.00 229.56H82.30V238.14H112.00M82.30 233.85H70.30V272.00H74.80M112.00 212.40H87.00V220.98H112.00M112.00 203.82H79.30V216.69H87.00M79.30 210.25H61.20V252.93H70.30M112.00 323.96H78.40V332.54H112.00M78.40 328.25H71.40V341.12H112.00M71.40 334.68H60.00V349.70H112.00M61.20 231.59H54.30V342.19H60.00M54.30 286.89H43.30V358.28H112.00M112.00 195.24H36.40V322.59H43.30M112.00 186.65H34.30V258.91H36.40M112.00 375.45H85.20V384.03H112.00M112.00 366.86H52.50V379.74H85.20M34.30 222.78H32.40V373.30H52.50M112.00 169.49H99.40V178.07H112.00M99.40 173.78H7.35V298.04H32.40M7.35 235.91H4.90V392.61H112.00" fill="none" stroke="#3a3a3a" stroke-width="1"/>
<circle cx="117.20" cy="407.7" r="1.2" fill="#111"/>
<circle cx="125.60" cy="407.7" r="1.2" fill="#111"/>
<circle cx="133.80" cy="407.7" r="1.2" fill="#111"/>
<circle cx="142.30" cy="407.7" r="1.2" fill="#111"/>
<circle cx="151.50" cy="406.1" r="3.05" fill="#ee1111"/>
<circle cx="160.40" cy="407.7" r="1.2" fill="#111"/>
<circle cx="168.00" cy="407.7" r="1.2" fill="#111"/>
<circle cx="176.20" cy="407.7" r="1.2" fill="#111"/>
<circle cx="185.10" cy="407.7" r="1.2" fill="#111"/>
<circle cx="193.00" cy="407.7" r="1.2" fill="#111"/>
<circle cx="200.60" cy="407.7" r="1.2" fill="#111"/>
<circle cx="207.90" cy="407.7" r="1.2" fill="#111"/>
<circle cx="217.10" cy="407.7" r="1.2" fill="#111"/>
<circle cx="226.90" cy="406.1" r="3.05" fill="#ee1111"/>
<circle cx="236.40" cy="407.7" r="1.2" fill="#111"/>
<circle cx="244.50" cy="407.7" r="1.2" fill="#111"/>
<circle cx="252.60" cy="407.7" r="1.2" fill="#111"/>
<circle cx="260.40" cy="407.7" r="1.2" fill="#111"/>
<circle cx="270.50" cy="406.1" r="3.05" fill="#ee1111"/>
<circle cx="280.60" cy="406.1" r="3.05" fill="#0a70c0"/>
<circle cx="289.30" cy="407.7" r="1.2" fill="#111"/>
<circle cx="297.10" cy="407.7" r="1.2" fill="#111"/>
<circle cx="304.60" cy="407.7" r="1.2" fill="#111"/>
<circle cx="312.40" cy="406.1" r="3.05" fill="#ee1111"/>
<circle cx="321.10" cy="407.7" r="1.2" fill="#111"/>
<circle cx="331.20" cy="406.1" r="3.05" fill="#0a70c0"/>
<circle cx="339.90" cy="407.7" r="1.2" fill="#111"/>
<circle cx="348.00" cy="407.7" r="1.2" fill="#111"/>
<circle cx="355.80" cy="407.7" r="1.2" fill="#111"/>
<circle cx="364.50" cy="406.1" r="3.05" fill="#ee1111"/>
<circle cx="373.70" cy="406.1" r="3.05" fill="#0a70c0"/>
<circle cx="381.80" cy="407.7" r="1.2" fill="#111"/>
<circle cx="390.50" cy="406.1" r="3.05" fill="#0a70c0"/>
<circle cx="400.60" cy="406.1" r="3.05" fill="#ee1111"/>
<circle cx="409.90" cy="406.1" r="3.05" fill="#0a70c0"/>
<circle cx="416.40" cy="407.7" r="1.2" fill="#111"/>
<circle cx="424.80" cy="407.7" r="1.2" fill="#111"/>
<circle cx="435.20" cy="406.1" r="3.05" fill="#0a70c0"/>
<circle cx="442.70" cy="407.7" r="1.2" fill="#111"/>
<circle cx="451.10" cy="407.7" r="1.2" fill="#111"/>
<circle cx="458.90" cy="407.7" r="1.2" fill="#111"/>
<circle cx="467.00" cy="407.7" r="1.2" fill="#111"/>
<circle cx="475.30" cy="406.1" r="3.05" fill="#ee1111"/>
<circle cx="484.50" cy="407.7" r="1.2" fill="#111"/>
<circle cx="492.60" cy="407.7" r="1.2" fill="#111"/>
<circle cx="500.60" cy="407.7" r="1.2" fill="#111"/>
<circle cx="509.20" cy="407.7" r="1.2" fill="#111"/>
<circle cx="518.10" cy="407.7" r="1.2" fill="#111"/>
<circle cx="526.50" cy="407.7" r="1.2" fill="#111"/>
<circle cx="535.20" cy="407.7" r="1.2" fill="#111"/>
<circle cx="543.90" cy="407.7" r="1.2" fill="#111"/>
<circle cx="552.70" cy="407.7" r="1.2" fill="#111"/>
<circle cx="561.60" cy="407.7" r="1.2" fill="#111"/>
<circle cx="570.70" cy="407.7" r="1.2" fill="#111"/>
<circle cx="579.00" cy="406.1" r="3.05" fill="#0a70c0"/>
<circle cx="588.20" cy="406.1" r="3.05" fill="#0a70c0"/>
<circle cx="597.90" cy="406.1" r="3.05" fill="#0a70c0"/>
<text transform="translate(26.8,408.8) scale(1,0.88)" font-size="10.6" class="cal">Immune cluster</text>
<text transform="translate(38.5,420.7) scale(1,0.88)" font-size="10.6" class="cal">(Figure 1)</text>
<path d="M114.6 427.3V438.3H410.2V427.3M414.1 427.3V438.3H603.5V427.3" fill="none" stroke="#404040" stroke-width="1.3"/>
<text x="276.3" y="457.3" font-size="13.6" text-anchor="middle" class="cal">high</text>
<text x="507.8" y="457.4" font-size="13.6" text-anchor="middle" class="cal">low</text>
<text transform="translate(550.2,473.0) scale(1,0.9)" font-size="14" class="cal">Immune cluster</text>
<circle cx="581.1" cy="485.1" r="4.7" fill="#ee1111"/>
<circle cx="581.1" cy="498.8" r="4.7" fill="#000"/>
<circle cx="581.1" cy="512.6" r="4.7" fill="#0a70c0"/>
<text transform="translate(594.9,488.8) scale(1,0.88)" font-size="10.6" class="cal">hot</text>
<text transform="translate(594.9,502.5) scale(1,0.88)" font-size="10.6" class="cal">not available</text>
<text transform="translate(594.9,516.2) scale(1,0.88)" font-size="10.6" class="cal">cold</text>
<text transform="translate(1.0,568.0) scale(0.88,1.0)" font-size="22.4" fill="#000">B</text>
<rect x="93.8" y="580.5" width="238.4" height="162" fill="none" stroke="#c8c8c8" stroke-width="1"/>
<line x1="90.5" x2="93.8" y1="742.50" y2="742.50" stroke="#999" stroke-width="0.8"/>
<text x="88" y="745.70" text-anchor="end" class="tk">0</text>
<line x1="90.5" x2="93.8" y1="713.03" y2="713.03" stroke="#999" stroke-width="0.8"/>
<text x="88" y="716.23" text-anchor="end" class="tk">10</text>
<line x1="90.5" x2="93.8" y1="683.56" y2="683.56" stroke="#999" stroke-width="0.8"/>
<text x="88" y="686.76" text-anchor="end" class="tk">20</text>
<line x1="90.5" x2="93.8" y1="654.09" y2="654.09" stroke="#999" stroke-width="0.8"/>
<text x="88" y="657.29" text-anchor="end" class="tk">30</text>
<line x1="90.5" x2="93.8" y1="624.62" y2="624.62" stroke="#999" stroke-width="0.8"/>
<text x="88" y="627.82" text-anchor="end" class="tk">40</text>
<line x1="90.5" x2="93.8" y1="595.15" y2="595.15" stroke="#999" stroke-width="0.8"/>
<text x="88" y="598.35" text-anchor="end" class="tk">50</text>
<path d="M154.3 678.0V707.3M151.60000000000002 678.0H157.0M151.60000000000002 707.3H157.0M151.60000000000002 692.9H157.0" stroke="#6f95dc" stroke-width="1" fill="none"/>
<path d="M274.7 642.3V662.8M272.0 642.3H277.4M272.0 662.8H277.4M272.0 652.7H277.4" stroke="#6f95dc" stroke-width="1" fill="none"/>
<circle cx="153.8" cy="628.1" r="1.85" fill="#000"/>
<circle cx="151.3" cy="653.6" r="1.85" fill="#000"/>
<circle cx="154.3" cy="696.3" r="1.85" fill="#000"/>
<circle cx="161.3" cy="702.3" r="1.85" fill="#000"/>
<circle cx="142.0" cy="709.8" r="1.85" fill="#000"/>
<circle cx="154.2" cy="725.0" r="1.85" fill="#000"/>
<circle cx="144.4" cy="731.3" r="1.85" fill="#000"/>
<circle cx="273.0" cy="587.1" r="1.85" fill="#000"/>
<circle cx="263.6" cy="606.8" r="1.85" fill="#000"/>
<circle cx="274.7" cy="626.1" r="1.85" fill="#000"/>
<circle cx="276.3" cy="626.1" r="1.85" fill="#000"/>
<circle cx="282.0" cy="634.5" r="1.85" fill="#000"/>
<circle cx="263.4" cy="650.9" r="1.85" fill="#000"/>
<circle cx="274.7" cy="661.4" r="1.85" fill="#000"/>
<circle cx="274.7" cy="672.0" r="1.85" fill="#000"/>
<circle cx="274.7" cy="674.5" r="1.85" fill="#000"/>
<circle cx="283.5" cy="681.9" r="1.85" fill="#000"/>
<circle cx="274.9" cy="691.1" r="1.85" fill="#000"/>
<circle cx="268.3" cy="713.7" r="1.85" fill="#000"/>
<text x="153.4" y="751.4" text-anchor="middle" class="tk">low</text>
<text x="274.0" y="751.4" text-anchor="middle" class="tk">high</text>
<text x="212.8" y="769.3" text-anchor="middle" class="ax">cluster</text>
<text transform="translate(65.5,660.8) rotate(-90)" text-anchor="middle" class="ax">% killed tumor cells</text>
<text x="213.5" y="596.5" text-anchor="middle" class="pv">p = 0.038</text>
</svg>
</body></html>
